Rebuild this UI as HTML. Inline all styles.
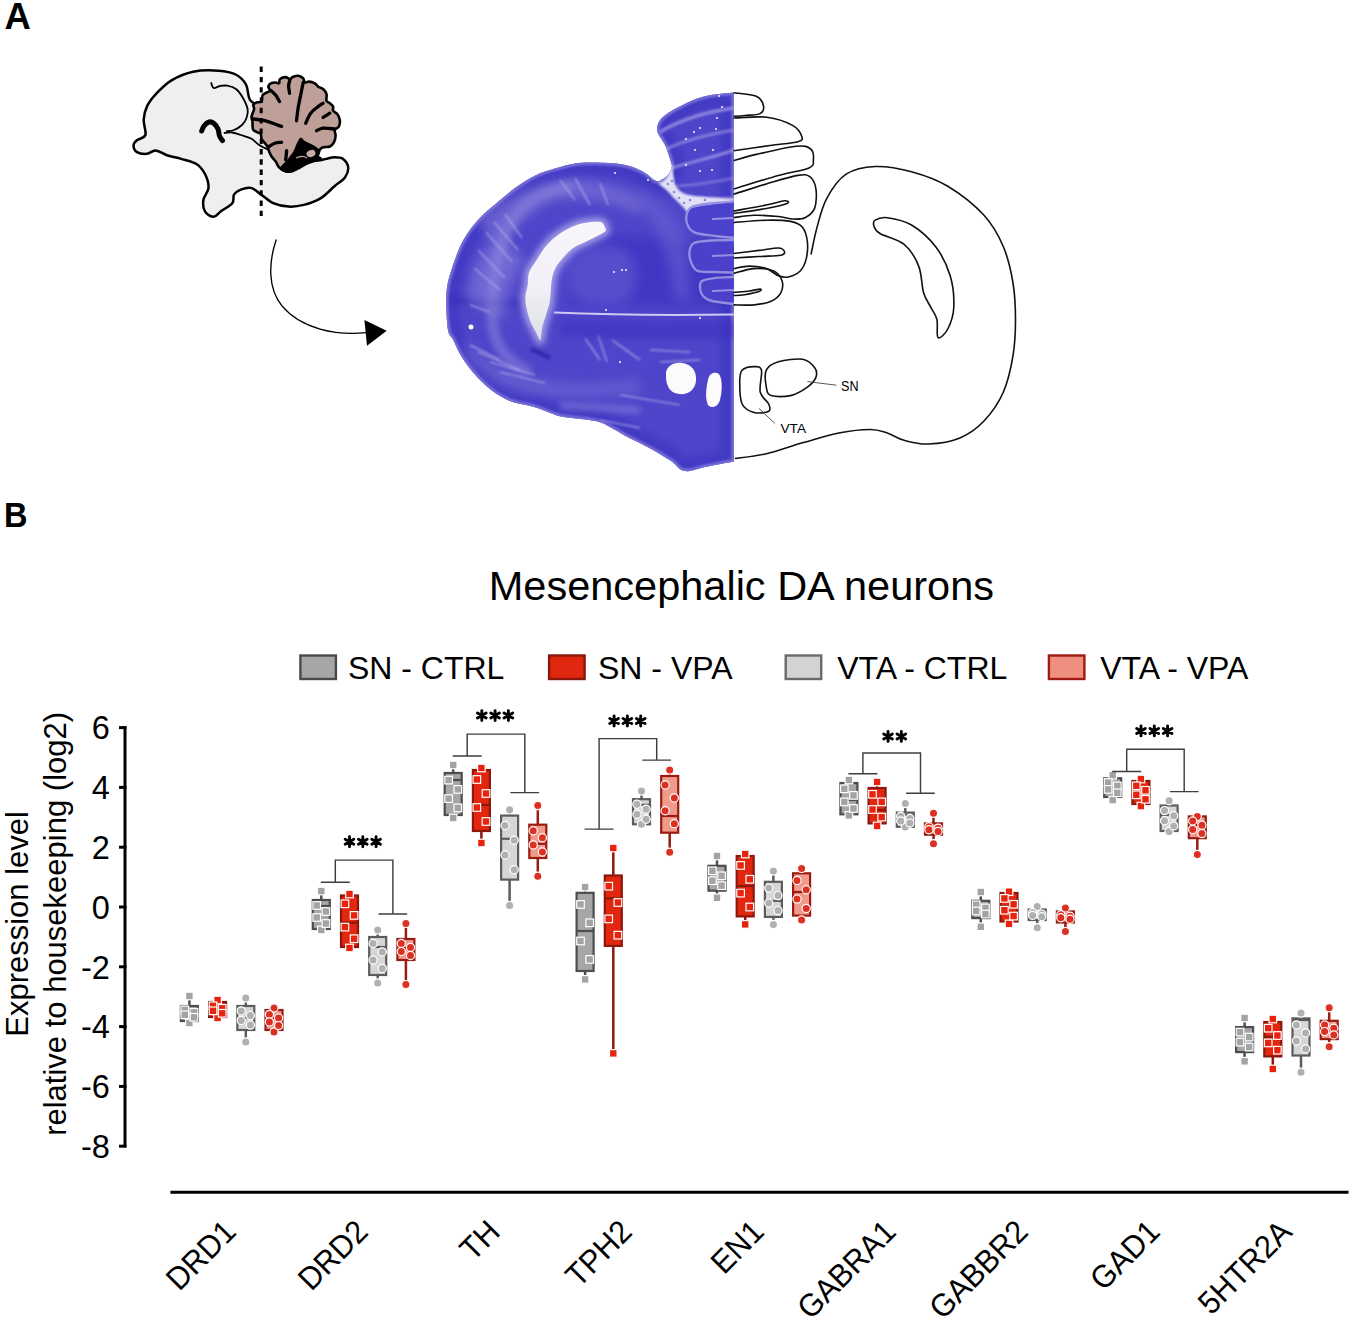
<!DOCTYPE html>
<html><head><meta charset="utf-8"><title>Figure</title>
<style>
html,body{margin:0;padding:0;background:#fff;width:1350px;height:1323px;overflow:hidden;}
svg{display:block;}
text{font-family:"Liberation Sans", sans-serif;fill:#000;}
</style></head><body>
<svg width="1350" height="1323" viewBox="0 0 1350 1323">
<rect width="1350" height="1323" fill="#fff"/>
<text x="4.4" y="28.8" font-size="36.5" font-weight="bold">A</text>
<text transform="translate(3.9 527) scale(0.93 1)" font-size="35" font-weight="bold">B</text>
<path d="M147.1,106.1 C149.2,101.8 152.2,97.9 156.3,93.6 C160.4,89.3 165.4,83.9 171.5,80.3 C177.6,76.7 185.2,73.3 193.1,71.7 C201.0,70.1 211.6,70.2 218.7,70.7 C225.8,71.2 231.1,72.2 235.7,74.5 C240.2,76.8 243.6,80.2 246.0,84.5 C248.4,88.8 247.5,96.2 250.2,100.1 C252.9,104.0 256.2,103.8 262.0,108.0 C267.8,112.2 278.7,118.0 285.0,125.0 C291.3,132.0 296.5,144.2 300.0,150.0 C303.5,155.8 303.1,158.2 306.0,160.0 C308.9,161.8 314.2,160.8 317.5,160.6 C320.8,160.4 323.2,159.5 326.0,158.9 C328.8,158.3 331.6,157.2 334.5,157.2 C337.4,157.2 340.8,157.2 343.1,158.9 C345.4,160.6 347.9,164.3 348.2,167.4 C348.5,170.5 347.1,174.6 344.8,177.7 C342.5,180.8 338.5,182.8 334.5,186.2 C330.5,189.6 326.0,195.0 320.9,198.1 C315.8,201.2 309.3,203.5 303.9,204.9 C298.5,206.3 293.6,206.9 288.5,206.6 C283.4,206.3 277.7,205.2 273.2,203.2 C268.7,201.2 265.0,197.2 261.3,194.7 C257.6,192.1 254.5,188.8 251.1,187.9 C247.7,187.1 243.7,188.5 240.8,189.6 C238.0,190.7 235.4,192.4 234.0,194.7 C232.6,197.0 234.6,200.4 232.3,203.2 C230.0,206.0 223.5,209.4 220.4,211.7 C217.3,214.0 216.2,216.8 213.6,216.8 C211.0,216.8 206.8,214.5 205.1,211.7 C203.4,208.9 202.8,203.8 203.4,199.8 C204.0,195.8 208.2,192.2 208.5,187.9 C208.8,183.7 207.1,178.3 205.1,174.3 C203.1,170.3 200.5,166.6 196.5,164.0 C192.5,161.4 186.0,160.3 181.2,158.9 C176.4,157.5 171.8,156.9 167.6,155.5 C163.3,154.1 159.1,150.7 155.7,150.4 C152.3,150.1 150.2,153.5 147.1,153.8 C144.0,154.1 139.2,153.5 136.9,152.1 C134.6,150.7 133.5,147.3 133.5,145.3 C133.5,143.3 134.9,141.9 136.9,140.2 C138.9,138.5 144.3,138.4 145.4,135.0 C146.5,131.6 143.4,124.5 143.7,119.7 C144.0,114.9 145.0,110.4 147.1,106.1 Z" fill="#efefef" stroke="#000" stroke-width="2.5" stroke-linejoin="round"/>
<path d="M211.0,82.3 C211.4,83.2 212.1,87.4 213.6,88.0 C215.1,88.6 217.7,86.4 220.0,86.0 C222.3,85.6 224.5,85.2 227.2,85.7 C229.9,86.2 233.4,87.0 236.0,89.0 C238.6,91.0 241.1,94.6 243.0,98.0 C244.9,101.4 247.1,106.2 247.7,109.5 C248.3,112.8 247.4,115.4 246.5,118.0 C245.6,120.6 244.1,123.0 242.0,125.0 C239.9,127.0 236.7,128.9 234.0,130.0 C231.3,131.1 227.3,131.2 226.0,131.5" fill="none" stroke="#000" stroke-width="1.8"/>
<path d="M223.8,133.0 C225.2,132.9 229.2,132.2 232.0,132.5 C234.8,132.8 237.6,134.0 240.8,135.0 C244.0,136.0 248.0,136.8 251.1,138.5 C254.2,140.2 256.5,143.3 259.6,145.3 C262.7,147.3 268.1,149.6 269.8,150.4" fill="none" stroke="#000" stroke-width="1.8"/>
<path d="M201.7,131.0 C202.1,130.2 202.8,127.5 204.0,126.0 C205.2,124.5 207.3,122.4 209.0,122.0 C210.7,121.6 212.5,122.3 214.0,123.5 C215.5,124.7 217.1,126.9 218.0,129.0 C218.9,131.1 218.8,134.1 219.5,136.0 C220.2,137.9 222.0,139.8 222.5,140.5" fill="none" stroke="#000" stroke-width="5" stroke-linecap="round"/>
<path d="M252.5,121.5 C252.3,120.1 251.3,118.6 251.6,116.5 C251.9,114.4 253.8,111.0 254.1,109.1 C254.4,107.2 252.9,106.0 253.3,104.9 C253.7,103.8 255.2,103.0 256.6,102.4 C258.0,101.9 260.6,102.7 261.6,101.6 C262.6,100.5 261.8,97.2 262.4,95.8 C262.9,94.4 263.6,94.1 264.9,93.3 C266.1,92.5 269.3,91.9 269.9,90.8 C270.5,89.7 268.1,87.8 268.3,86.6 C268.5,85.3 269.6,84.0 270.8,83.3 C272.0,82.6 274.3,82.5 275.7,82.5 C277.1,82.5 278.4,83.9 279.1,83.3 C279.8,82.7 278.8,80.1 279.9,79.1 C281.0,78.1 284.0,77.1 285.7,77.1 C287.4,77.1 288.6,79.2 289.9,79.1 C291.1,79.0 291.8,77.2 293.2,76.7 C294.6,76.2 296.5,75.5 298.2,75.8 C299.9,76.1 302.1,77.2 303.2,78.3 C304.3,79.4 303.8,82.0 304.8,82.5 C305.8,83.0 307.3,81.5 309.0,81.6 C310.7,81.7 313.3,82.5 314.8,83.3 C316.3,84.1 316.7,85.6 318.1,86.6 C319.5,87.6 321.7,87.8 323.1,89.1 C324.5,90.3 325.9,92.1 326.5,94.1 C327.1,96.0 325.9,99.3 326.5,100.8 C327.1,102.3 328.7,102.3 329.8,103.3 C330.9,104.3 332.6,105.4 333.1,106.6 C333.7,107.8 332.4,109.5 333.1,110.7 C333.8,112.0 336.2,112.6 337.3,114.1 C338.4,115.6 339.5,117.8 339.8,119.9 C340.1,122.0 339.7,124.8 338.9,126.5 C338.1,128.2 335.4,128.4 334.8,129.9 C334.2,131.4 335.8,133.6 335.6,135.7 C335.5,137.8 334.9,140.5 333.9,142.3 C332.9,144.1 331.6,145.7 329.8,146.5 C328.0,147.3 324.8,146.8 323.1,147.3 C321.4,147.9 320.6,148.6 319.8,149.8 C319.0,151.1 318.9,153.7 318.1,154.8 C317.3,155.9 316.0,155.9 314.8,156.5 C313.6,157.1 313.5,157.3 310.7,158.1 C307.9,158.9 301.4,159.4 298.2,161.4 C295.0,163.4 293.6,168.1 291.5,169.8 C289.4,171.5 287.8,171.8 285.7,171.4 C283.6,171.0 280.8,169.0 279.1,167.3 C277.4,165.6 276.9,163.2 275.7,161.4 C274.4,159.6 272.7,158.2 271.6,156.5 C270.5,154.8 269.8,153.2 269.1,151.5 C268.4,149.8 268.1,147.9 267.4,146.5 C266.7,145.1 265.9,144.4 264.9,143.2 C263.9,141.9 262.3,140.5 261.6,139.0 C260.9,137.5 261.5,135.1 260.8,134.0 C260.1,132.9 258.8,133.0 257.5,132.3 C256.2,131.6 254.1,131.1 253.3,129.9 C252.5,128.7 252.6,126.3 252.5,124.9 C252.4,123.5 252.7,122.9 252.5,121.5 Z" fill="#bfa099" stroke="#000" stroke-width="2.6" stroke-linejoin="round"/>
<path d="M270.8,90.4 C271.7,91.2 274.6,93.7 276.0,95.5 C277.4,97.3 278.9,100.5 279.5,101.5" fill="none" stroke="#000" stroke-width="3.3" stroke-linecap="round"/>
<path d="M289.6,93.3 C289.4,92.0 288.6,88.0 288.6,85.8 C288.7,83.6 289.7,81.0 289.9,80.0" fill="none" stroke="#000" stroke-width="3.3" stroke-linecap="round"/>
<path d="M296.5,120.8 C296.8,118.6 297.5,111.7 298.2,107.4 C298.9,103.1 299.9,99.1 300.7,94.9 C301.5,90.8 302.8,84.6 303.2,82.5" fill="none" stroke="#000" stroke-width="3.3" stroke-linecap="round"/>
<path d="M305.7,123.2 C306.5,121.5 308.6,116.0 310.7,113.2 C312.8,110.4 316.0,108.2 318.1,106.6 C320.2,104.9 322.3,103.8 323.1,103.3" fill="none" stroke="#000" stroke-width="3.3" stroke-linecap="round"/>
<path d="M323.1,117.4 C324.2,116.7 328.7,113.9 329.8,113.2" fill="none" stroke="#000" stroke-width="3.3" stroke-linecap="round"/>
<path d="M316.5,130.7 C317.6,130.3 320.1,128.5 323.1,128.2 C326.2,127.9 332.9,128.9 334.8,129.0" fill="none" stroke="#000" stroke-width="3.3" stroke-linecap="round"/>
<path d="M253.3,119.0 C255.2,119.3 260.2,119.5 264.9,120.7 C269.6,122.0 278.8,125.5 281.6,126.5" fill="none" stroke="#000" stroke-width="3.3" stroke-linecap="round"/>
<path d="M269.1,146.5 C270.1,145.9 272.8,143.9 274.9,143.2 C277.0,142.5 280.5,142.5 281.6,142.3" fill="none" stroke="#000" stroke-width="3.3" stroke-linecap="round"/>
<path d="M286.6,150.6 C286.5,152.1 285.9,158.3 285.7,159.8" fill="none" stroke="#000" stroke-width="3.3" stroke-linecap="round"/>
<path d="M300.7,137.5 C302.0,137.2 302.9,139.8 305.0,141.0 C307.1,142.2 310.7,143.6 313.0,145.0 C315.3,146.4 318.2,147.8 319.0,149.5 C319.8,151.2 317.5,153.6 318.0,155.0 C318.5,156.4 322.0,157.0 322.0,158.0 C322.0,159.0 320.3,159.9 318.0,161.0 C315.7,162.1 311.3,163.0 308.0,164.5 C304.7,166.0 301.0,168.6 298.0,170.0 C295.0,171.4 292.5,172.8 290.0,173.0 C287.5,173.2 284.7,172.3 283.0,171.5 C281.3,170.7 279.5,169.8 280.0,168.0 C280.5,166.2 283.8,163.7 286.0,161.0 C288.2,158.3 291.2,155.0 293.0,152.0 C294.8,149.0 295.7,145.4 297.0,143.0 C298.3,140.6 299.4,137.8 300.7,137.5 Z" fill="#000"/>
<ellipse cx="311" cy="153.5" rx="4.6" ry="3.4" fill="#c8aca6" transform="rotate(-20 311 153.5)"/>
<path d="M296,158 C300,156 304,156 307,158" fill="none" stroke="#c8aca6" stroke-width="1.2"/>
<line x1="261.2" y1="66.6" x2="261.2" y2="216" stroke="#000" stroke-width="3" stroke-dasharray="5.4,4.9"/>
<path d="M276.3,239.5 C268.2,263.2 268,289 282,305.9 C301.1,329 336.2,335.6 366,332.6" fill="none" stroke="#000" stroke-width="1.35"/>
<polygon points="364.4,319.9 386.7,330.8 367,345.8" fill="#000"/>
<defs><clipPath id="bclip"><path d="M733.9,92.4 C729.9,92.9 716.5,93.9 709.6,95.2 C702.7,96.5 698.0,98.1 692.2,100.4 C686.4,102.7 679.7,106.3 674.8,109.1 C669.9,111.9 665.8,114.5 663.0,117.0 C660.2,119.5 658.9,121.5 658.0,124.0 C657.1,126.5 656.7,129.0 657.4,131.7 C658.1,134.4 660.5,137.4 662.0,140.0 C663.5,142.6 664.6,143.6 666.1,147.4 C667.6,151.2 670.4,159.6 671.3,163.0 C672.2,166.4 672.0,166.0 671.5,168.0 C671.0,170.0 669.6,173.1 668.0,175.0 C666.4,176.9 664.0,178.5 662.0,179.5 C660.0,180.5 659.1,182.2 655.8,180.8 C652.5,179.4 647.8,173.9 642.3,171.2 C636.8,168.5 631.0,165.9 623.0,164.5 C615.0,163.1 602.1,162.7 594.1,162.5 C586.1,162.3 581.3,162.5 574.9,163.5 C568.5,164.5 562.0,166.4 555.6,168.3 C549.2,170.2 542.7,171.9 536.3,175.0 C529.9,178.1 523.5,182.1 517.1,186.6 C510.7,191.1 504.2,196.5 497.8,202.0 C491.4,207.5 484.3,213.0 478.5,219.4 C472.7,225.8 467.6,232.2 463.1,240.6 C458.6,248.9 454.4,260.7 451.6,269.5 C448.8,278.3 447.1,283.4 446.5,293.3 C445.9,303.2 446.7,321.1 447.8,328.9 C448.9,336.7 450.9,335.2 453.3,340.0 C455.7,344.8 458.1,351.5 462.2,357.8 C466.3,364.1 472.2,371.9 477.8,377.8 C483.4,383.7 489.7,389.2 495.6,393.3 C501.5,397.4 507.0,400.0 513.3,402.2 C519.6,404.4 527.0,404.8 533.3,406.7 C539.6,408.6 546.3,411.6 551.1,413.3 C555.9,415.0 554.8,415.4 562.2,416.7 C569.6,418.0 587.1,419.1 595.6,421.1 C604.1,423.1 607.8,426.1 613.3,428.9 C618.8,431.7 622.6,434.5 628.9,437.8 C635.2,441.1 644.1,445.0 651.1,448.9 C658.1,452.8 665.6,457.4 671.1,461.1 C676.6,464.8 678.5,470.2 684.4,471.1 C690.3,472.0 698.5,468.3 706.7,466.7 C715.0,465.1 729.4,462.4 733.9,461.5 Z"/></clipPath><filter id="blur1" filterUnits="userSpaceOnUse" x="400" y="50" width="400" height="450"><feGaussianBlur stdDeviation="1.2"/></filter><filter id="blur3" filterUnits="userSpaceOnUse" x="400" y="50" width="400" height="450"><feGaussianBlur stdDeviation="3"/></filter><filter id="blur6" filterUnits="userSpaceOnUse" x="400" y="50" width="400" height="450"><feGaussianBlur stdDeviation="6"/></filter></defs>
<path d="M733.9,92.4 C729.9,92.9 716.5,93.9 709.6,95.2 C702.7,96.5 698.0,98.1 692.2,100.4 C686.4,102.7 679.7,106.3 674.8,109.1 C669.9,111.9 665.8,114.5 663.0,117.0 C660.2,119.5 658.9,121.5 658.0,124.0 C657.1,126.5 656.7,129.0 657.4,131.7 C658.1,134.4 660.5,137.4 662.0,140.0 C663.5,142.6 664.6,143.6 666.1,147.4 C667.6,151.2 670.4,159.6 671.3,163.0 C672.2,166.4 672.0,166.0 671.5,168.0 C671.0,170.0 669.6,173.1 668.0,175.0 C666.4,176.9 664.0,178.5 662.0,179.5 C660.0,180.5 659.1,182.2 655.8,180.8 C652.5,179.4 647.8,173.9 642.3,171.2 C636.8,168.5 631.0,165.9 623.0,164.5 C615.0,163.1 602.1,162.7 594.1,162.5 C586.1,162.3 581.3,162.5 574.9,163.5 C568.5,164.5 562.0,166.4 555.6,168.3 C549.2,170.2 542.7,171.9 536.3,175.0 C529.9,178.1 523.5,182.1 517.1,186.6 C510.7,191.1 504.2,196.5 497.8,202.0 C491.4,207.5 484.3,213.0 478.5,219.4 C472.7,225.8 467.6,232.2 463.1,240.6 C458.6,248.9 454.4,260.7 451.6,269.5 C448.8,278.3 447.1,283.4 446.5,293.3 C445.9,303.2 446.7,321.1 447.8,328.9 C448.9,336.7 450.9,335.2 453.3,340.0 C455.7,344.8 458.1,351.5 462.2,357.8 C466.3,364.1 472.2,371.9 477.8,377.8 C483.4,383.7 489.7,389.2 495.6,393.3 C501.5,397.4 507.0,400.0 513.3,402.2 C519.6,404.4 527.0,404.8 533.3,406.7 C539.6,408.6 546.3,411.6 551.1,413.3 C555.9,415.0 554.8,415.4 562.2,416.7 C569.6,418.0 587.1,419.1 595.6,421.1 C604.1,423.1 607.8,426.1 613.3,428.9 C618.8,431.7 622.6,434.5 628.9,437.8 C635.2,441.1 644.1,445.0 651.1,448.9 C658.1,452.8 665.6,457.4 671.1,461.1 C676.6,464.8 678.5,470.2 684.4,471.1 C690.3,472.0 698.5,468.3 706.7,466.7 C715.0,465.1 729.4,462.4 733.9,461.5 Z" fill="#4e45ca"/>
<g clip-path="url(#bclip)">
<path d="M733.9,92.4 C729.9,92.9 716.5,93.9 709.6,95.2 C702.7,96.5 698.0,98.1 692.2,100.4 C686.4,102.7 679.7,106.3 674.8,109.1 C669.9,111.9 665.8,114.5 663.0,117.0 C660.2,119.5 658.9,121.5 658.0,124.0 C657.1,126.5 656.7,129.0 657.4,131.7 C658.1,134.4 660.5,137.4 662.0,140.0 C663.5,142.6 664.6,143.6 666.1,147.4 C667.6,151.2 670.4,159.6 671.3,163.0 C672.2,166.4 672.0,166.0 671.5,168.0 C671.0,170.0 669.6,173.1 668.0,175.0 C666.4,176.9 664.0,178.5 662.0,179.5 C660.0,180.5 659.1,182.2 655.8,180.8 C652.5,179.4 647.8,173.9 642.3,171.2 C636.8,168.5 631.0,165.9 623.0,164.5 C615.0,163.1 602.1,162.7 594.1,162.5 C586.1,162.3 581.3,162.5 574.9,163.5 C568.5,164.5 562.0,166.4 555.6,168.3 C549.2,170.2 542.7,171.9 536.3,175.0 C529.9,178.1 523.5,182.1 517.1,186.6 C510.7,191.1 504.2,196.5 497.8,202.0 C491.4,207.5 484.3,213.0 478.5,219.4 C472.7,225.8 467.6,232.2 463.1,240.6 C458.6,248.9 454.4,260.7 451.6,269.5 C448.8,278.3 447.1,283.4 446.5,293.3 C445.9,303.2 446.7,321.1 447.8,328.9 C448.9,336.7 450.9,335.2 453.3,340.0 C455.7,344.8 458.1,351.5 462.2,357.8 C466.3,364.1 472.2,371.9 477.8,377.8 C483.4,383.7 489.7,389.2 495.6,393.3 C501.5,397.4 507.0,400.0 513.3,402.2 C519.6,404.4 527.0,404.8 533.3,406.7 C539.6,408.6 546.3,411.6 551.1,413.3 C555.9,415.0 554.8,415.4 562.2,416.7 C569.6,418.0 587.1,419.1 595.6,421.1 C604.1,423.1 607.8,426.1 613.3,428.9 C618.8,431.7 622.6,434.5 628.9,437.8 C635.2,441.1 644.1,445.0 651.1,448.9 C658.1,452.8 665.6,457.4 671.1,461.1 C676.6,464.8 678.5,470.2 684.4,471.1 C690.3,472.0 698.5,468.3 706.7,466.7 C715.0,465.1 729.4,462.4 733.9,461.5 Z" fill="none" stroke="#372dbe" stroke-width="26" opacity="0.45" filter="url(#blur3)"/>
<path d="M733.9,92.4 C729.9,92.9 716.5,93.9 709.6,95.2 C702.7,96.5 698.0,98.1 692.2,100.4 C686.4,102.7 679.7,106.3 674.8,109.1 C669.9,111.9 665.8,114.5 663.0,117.0 C660.2,119.5 658.9,121.5 658.0,124.0 C657.1,126.5 656.7,129.0 657.4,131.7 C658.1,134.4 660.5,137.4 662.0,140.0 C663.5,142.6 664.6,143.6 666.1,147.4 C667.6,151.2 670.4,159.6 671.3,163.0 C672.2,166.4 672.0,166.0 671.5,168.0 C671.0,170.0 669.6,173.1 668.0,175.0 C666.4,176.9 664.0,178.5 662.0,179.5 C660.0,180.5 659.1,182.2 655.8,180.8 C652.5,179.4 647.8,173.9 642.3,171.2 C636.8,168.5 631.0,165.9 623.0,164.5 C615.0,163.1 602.1,162.7 594.1,162.5 C586.1,162.3 581.3,162.5 574.9,163.5 C568.5,164.5 562.0,166.4 555.6,168.3 C549.2,170.2 542.7,171.9 536.3,175.0 C529.9,178.1 523.5,182.1 517.1,186.6 C510.7,191.1 504.2,196.5 497.8,202.0 C491.4,207.5 484.3,213.0 478.5,219.4 C472.7,225.8 467.6,232.2 463.1,240.6 C458.6,248.9 454.4,260.7 451.6,269.5 C448.8,278.3 447.1,283.4 446.5,293.3 C445.9,303.2 446.7,321.1 447.8,328.9 C448.9,336.7 450.9,335.2 453.3,340.0 C455.7,344.8 458.1,351.5 462.2,357.8 C466.3,364.1 472.2,371.9 477.8,377.8 C483.4,383.7 489.7,389.2 495.6,393.3 C501.5,397.4 507.0,400.0 513.3,402.2 C519.6,404.4 527.0,404.8 533.3,406.7 C539.6,408.6 546.3,411.6 551.1,413.3 C555.9,415.0 554.8,415.4 562.2,416.7 C569.6,418.0 587.1,419.1 595.6,421.1 C604.1,423.1 607.8,426.1 613.3,428.9 C618.8,431.7 622.6,434.5 628.9,437.8 C635.2,441.1 644.1,445.0 651.1,448.9 C658.1,452.8 665.6,457.4 671.1,461.1 C676.6,464.8 678.5,470.2 684.4,471.1 C690.3,472.0 698.5,468.3 706.7,466.7 C715.0,465.1 729.4,462.4 733.9,461.5 Z" fill="none" stroke="#8983dc" stroke-width="5" opacity="0.75" filter="url(#blur1)"/>
<path d="M575,186 C545,190 522,200 508,228 C496,255 491,285 492,318 C494,345 505,362 530,372" fill="none" stroke="#8f89de" stroke-width="11" opacity="0.55" filter="url(#blur3)"/>
<path d="M450,300 C470,301 495,302 522,304" fill="none" stroke="#2c22ad" stroke-width="7" opacity="0.45" filter="url(#blur3)"/>
<path d="M585,236 C570,250 560,270 562,300" fill="none" stroke="#5d55cf" stroke-width="6" opacity="0.5" filter="url(#blur3)"/>
<path d="M478,220 C500,200 530,185 560,180 C590,178 620,185 645,200 L640,215 C610,200 580,195 555,200 C530,210 510,230 500,250 Z" fill="#8780da" opacity="0.55" filter="url(#blur6)"/>
<path d="M468,300 C470,270 480,250 500,235 L525,260 C510,280 505,300 505,320 Z" fill="#8a84dc" opacity="0.55" filter="url(#blur6)"/>
<path d="M465,335 C480,360 500,372 540,380 C570,385 600,385 640,380 L640,392 C600,398 560,398 530,394 C500,388 480,375 465,355 Z" fill="#7e77d8" opacity="0.5" filter="url(#blur6)"/>
<path d="M486,232 L512,262" stroke="#b6b1ec" stroke-width="1.6" opacity="0.7" filter="url(#blur1)"/>
<path d="M494,222 L518,250" stroke="#b6b1ec" stroke-width="1.6" opacity="0.7" filter="url(#blur1)"/>
<path d="M505,214 L522,238" stroke="#b6b1ec" stroke-width="1.6" opacity="0.7" filter="url(#blur1)"/>
<path d="M478,250 L505,278" stroke="#b6b1ec" stroke-width="1.6" opacity="0.7" filter="url(#blur1)"/>
<path d="M474,268 L500,290" stroke="#b6b1ec" stroke-width="1.6" opacity="0.7" filter="url(#blur1)"/>
<path d="M470,345 L500,360" stroke="#b6b1ec" stroke-width="1.6" opacity="0.7" filter="url(#blur1)"/>
<path d="M478,352 L520,370" stroke="#b6b1ec" stroke-width="1.6" opacity="0.7" filter="url(#blur1)"/>
<path d="M490,362 L535,375" stroke="#b6b1ec" stroke-width="1.6" opacity="0.7" filter="url(#blur1)"/>
<path d="M500,372 L545,383" stroke="#b6b1ec" stroke-width="1.6" opacity="0.7" filter="url(#blur1)"/>
<path d="M585,338 L600,360" stroke="#b6b1ec" stroke-width="1.6" opacity="0.7" filter="url(#blur1)"/>
<path d="M598,335 L607,362" stroke="#b6b1ec" stroke-width="1.6" opacity="0.7" filter="url(#blur1)"/>
<path d="M612,340 L640,360" stroke="#b6b1ec" stroke-width="1.6" opacity="0.7" filter="url(#blur1)"/>
<path d="M650,350 L690,352" stroke="#b6b1ec" stroke-width="1.6" opacity="0.7" filter="url(#blur1)"/>
<path d="M660,362 L700,360" stroke="#b6b1ec" stroke-width="1.6" opacity="0.7" filter="url(#blur1)"/>
<path d="M620,395 L680,405" stroke="#b6b1ec" stroke-width="1.6" opacity="0.7" filter="url(#blur1)"/>
<path d="M560,180 L575,200" stroke="#b6b1ec" stroke-width="1.6" opacity="0.7" filter="url(#blur1)"/>
<path d="M575,178 L590,205" stroke="#b6b1ec" stroke-width="1.6" opacity="0.7" filter="url(#blur1)"/>
<path d="M600,183 L608,205" stroke="#b6b1ec" stroke-width="1.6" opacity="0.7" filter="url(#blur1)"/>
<path d="M600,420 L640,428" stroke="#b6b1ec" stroke-width="1.6" opacity="0.7" filter="url(#blur1)"/>
<path d="M470,305 L490,312" stroke="#b6b1ec" stroke-width="1.6" opacity="0.7" filter="url(#blur1)"/>
<path d="M531,349 C538,352 545,355 550,358" fill="none" stroke="#241a9e" stroke-width="5" opacity="0.6" filter="url(#blur1)"/>
<path d="M560,406 C590,407 615,409 640,410" fill="none" stroke="#a19be4" stroke-width="6" opacity="0.5" filter="url(#blur3)"/>
<path d="M575,240 C610,232 660,240 734,245 L734,305 C690,306 630,306 570,305 C560,290 560,260 575,240 Z" fill="#3328bd" opacity="0.45" filter="url(#blur6)"/>
<path d="M560,320 C610,322 680,322 734,322 L734,338 C680,340 610,340 560,336 Z" fill="#3a2fc0" opacity="0.5" filter="url(#blur3)"/>
<path d="M565,262 C580,245 605,240 625,250 C640,262 640,290 625,302 C605,310 580,305 568,292 Z" fill="#7069d6" opacity="0.45" filter="url(#blur6)"/>
<path d="M554,312.6 C600,314.5 660,315.5 734,314.5" fill="none" stroke="#d4d2f4" stroke-width="2" opacity="0.95"/>
<path d="M660,132 C680,120 705,112 734,108" fill="none" stroke="#a9a3e8" stroke-width="3.5" opacity="0.7" filter="url(#blur1)"/>
<path d="M664,150 C685,140 710,134 734,130" fill="none" stroke="#a9a3e8" stroke-width="3" opacity="0.6" filter="url(#blur1)"/>
<path d="M672,168 C690,162 712,158 734,150" fill="none" stroke="#b8b3ee" stroke-width="3" opacity="0.6" filter="url(#blur1)"/>
<path d="M676,186 C695,185 715,182 734,178" fill="none" stroke="#a9a3e8" stroke-width="2.5" opacity="0.5" filter="url(#blur1)"/>
<path d="M672,196 C690,199 712,200 734,198" fill="none" stroke="#8d86dc" stroke-width="3" opacity="0.7" filter="url(#blur1)"/>
<path d="M671.5,164.0 C672.2,164.5 672.8,172.3 673.5,176.0 C674.2,179.7 674.2,183.1 676.0,186.0 C677.8,188.9 680.0,191.8 684.0,193.5 C688.0,195.2 691.7,195.6 700.0,196.5 C708.3,197.4 728.3,198.2 734.0,199.2 C739.7,200.2 737.7,201.9 734.0,202.5 C730.3,203.1 718.7,202.3 712.0,203.0 C705.3,203.7 698.0,205.0 694.0,206.5 C690.0,208.0 689.8,211.9 688.0,212.0 C686.2,212.1 685.0,209.0 683.0,207.0 C681.0,205.0 678.7,202.8 676.0,200.0 C673.3,197.2 669.8,193.2 667.0,190.5 C664.2,187.8 659.5,185.2 659.0,183.5 C658.5,181.8 662.3,182.2 664.0,180.5 C665.7,178.8 667.8,175.8 669.0,173.0 C670.2,170.2 670.8,163.5 671.5,164.0 Z" fill="#e2e0f6" filter="url(#blur1)"/>
<circle cx="668" cy="184" r="1.3" fill="#8f89dc"/>
<circle cx="674" cy="192" r="1.3" fill="#8f89dc"/>
<circle cx="679" cy="198" r="1.3" fill="#8f89dc"/>
<circle cx="684" cy="203" r="1.3" fill="#8f89dc"/>
<circle cx="672" cy="181" r="1.3" fill="#8f89dc"/>
<circle cx="690" cy="200" r="1.3" fill="#8f89dc"/>
<circle cx="705" cy="200" r="1.3" fill="#8f89dc"/>
<path d="M640,185 C660,200 675,215 686,235 L690,300 L675,300 C670,260 660,230 640,205 Z" fill="#6f68d4" opacity="0.5" filter="url(#blur6)"/>
<path d="M734.0,201.3 C730.3,201.7 719.0,202.6 712.0,203.5 C705.0,204.4 696.2,205.1 692.0,207.0 C687.8,208.9 687.2,211.8 686.5,215.0 C685.8,218.2 686.6,223.1 688.0,226.0 C689.4,228.9 690.5,230.9 695.0,232.6 C699.5,234.3 708.5,235.1 715.0,236.0 C721.5,236.9 730.8,237.5 734.0,237.8" fill="#4b42cc" stroke="#9893e2" stroke-width="2.4" opacity="0.95"/>
<path d="M734.0,240.0 C730.3,240.1 718.7,240.0 712.0,240.5 C705.3,241.0 697.8,241.1 694.0,243.0 C690.2,244.9 690.0,248.5 689.5,251.7 C689.0,254.9 689.7,258.8 691.0,262.0 C692.3,265.2 693.4,269.2 697.4,270.9 C701.4,272.6 708.9,271.7 715.0,272.0 C721.1,272.3 730.8,272.5 734.0,272.6" fill="#4b42cc" stroke="#9893e2" stroke-width="2.4" opacity="0.95"/>
<path d="M734.0,277.0 C730.8,277.2 720.3,277.3 715.0,278.0 C709.7,278.7 704.5,279.3 702.0,281.0 C699.5,282.7 699.8,285.5 700.0,288.0 C700.2,290.5 701.0,293.8 703.0,296.0 C705.0,298.2 706.8,299.7 712.0,301.0 C717.2,302.3 730.3,303.5 734.0,304.0" fill="#4b42cc" stroke="#9893e2" stroke-width="2.4" opacity="0.95"/>
<path d="M712,219.0 L734,218.0" stroke="#a9a4ea" stroke-width="2" opacity="0.8"/>
<path d="M712,256.0 L734,255.0" stroke="#a9a4ea" stroke-width="2" opacity="0.8"/>
<path d="M712,291.0 L734,290.0" stroke="#a9a4ea" stroke-width="2" opacity="0.8"/>
<path d="M605.2,227.8 C604.7,226.3 603.4,223.5 602.0,222.5 C600.6,221.5 599.6,221.7 596.7,221.8 C593.8,221.9 588.6,222.2 584.6,223.0 C580.6,223.8 577.0,224.6 572.6,226.6 C568.2,228.6 562.4,231.8 558.0,235.0 C553.6,238.2 549.6,241.8 546.0,246.0 C542.4,250.2 539.1,256.1 536.3,260.5 C533.5,264.9 530.4,268.5 529.0,272.5 C527.6,276.5 528.4,280.6 527.8,284.6 C527.2,288.6 525.6,292.7 525.4,296.7 C525.2,300.7 525.8,304.8 526.6,308.8 C527.4,312.8 528.6,316.9 530.2,320.9 C531.8,324.9 534.7,329.8 536.3,333.0 C537.9,336.2 539.2,339.6 540.0,340.3 C540.8,341.0 540.6,339.2 541.0,337.0 C541.4,334.8 541.5,330.7 542.3,327.0 C543.1,323.3 544.8,318.9 546.0,314.9 C547.2,310.9 548.8,306.8 549.6,302.8 C550.4,298.8 550.4,294.7 550.8,290.7 C551.2,286.7 551.2,282.4 552.0,278.6 C552.8,274.8 553.8,271.1 555.6,267.7 C557.4,264.3 560.1,261.2 562.9,258.0 C565.7,254.8 569.0,251.0 572.6,248.4 C576.2,245.8 580.6,244.3 584.6,242.3 C588.6,240.3 593.3,238.1 596.7,236.3 C600.1,234.5 603.8,232.8 605.2,231.4 C606.6,230.0 605.7,229.3 605.2,227.8 Z" fill="#b9b5ec" stroke="#9d97e4" stroke-width="9" filter="url(#blur3)"/>
<defs><linearGradient id="vg" x1="0" y1="0" x2="0" y2="1"><stop offset="0" stop-color="#f6f6fb"/><stop offset="0.55" stop-color="#f0f0f6"/><stop offset="1" stop-color="#dedee6"/></linearGradient></defs>
<path d="M605.2,227.8 C604.7,226.3 603.4,223.5 602.0,222.5 C600.6,221.5 599.6,221.7 596.7,221.8 C593.8,221.9 588.6,222.2 584.6,223.0 C580.6,223.8 577.0,224.6 572.6,226.6 C568.2,228.6 562.4,231.8 558.0,235.0 C553.6,238.2 549.6,241.8 546.0,246.0 C542.4,250.2 539.1,256.1 536.3,260.5 C533.5,264.9 530.4,268.5 529.0,272.5 C527.6,276.5 528.4,280.6 527.8,284.6 C527.2,288.6 525.6,292.7 525.4,296.7 C525.2,300.7 525.8,304.8 526.6,308.8 C527.4,312.8 528.6,316.9 530.2,320.9 C531.8,324.9 534.7,329.8 536.3,333.0 C537.9,336.2 539.2,339.6 540.0,340.3 C540.8,341.0 540.6,339.2 541.0,337.0 C541.4,334.8 541.5,330.7 542.3,327.0 C543.1,323.3 544.8,318.9 546.0,314.9 C547.2,310.9 548.8,306.8 549.6,302.8 C550.4,298.8 550.4,294.7 550.8,290.7 C551.2,286.7 551.2,282.4 552.0,278.6 C552.8,274.8 553.8,271.1 555.6,267.7 C557.4,264.3 560.1,261.2 562.9,258.0 C565.7,254.8 569.0,251.0 572.6,248.4 C576.2,245.8 580.6,244.3 584.6,242.3 C588.6,240.3 593.3,238.1 596.7,236.3 C600.1,234.5 603.8,232.8 605.2,231.4 C606.6,230.0 605.7,229.3 605.2,227.8 Z" fill="url(#vg)"/>
<path d="M666,376 C665,366 674,362 682,363 C692,364 697,372 696,381 C695,390 688,395 679,394 C670,393 666,386 666,376 Z" fill="#fbfbfb"/>
<path d="M708,380 C709,373 715,371 719,374 C723,380 722,392 720,400 C718,407 712,409 708,405 C705,398 706,388 708,380 Z" fill="#fbfbfb"/>
<circle cx="471" cy="327" r="2.5" fill="#fff"/>
<circle cx="719" cy="96" r="1.1" fill="#fff" opacity="0.9"/>
<circle cx="722" cy="107" r="1.1" fill="#fff" opacity="0.9"/>
<circle cx="717" cy="118" r="1.1" fill="#fff" opacity="0.9"/>
<circle cx="700" cy="128" r="1.1" fill="#fff" opacity="0.9"/>
<circle cx="694" cy="132" r="1.1" fill="#fff" opacity="0.9"/>
<circle cx="716" cy="129" r="1.1" fill="#fff" opacity="0.9"/>
<circle cx="686" cy="139" r="1.1" fill="#fff" opacity="0.9"/>
<circle cx="695" cy="150" r="1.1" fill="#fff" opacity="0.9"/>
<circle cx="713" cy="150" r="1.1" fill="#fff" opacity="0.9"/>
<circle cx="686" cy="165" r="1.1" fill="#fff" opacity="0.9"/>
<circle cx="700" cy="171" r="1.1" fill="#fff" opacity="0.9"/>
<circle cx="712" cy="170" r="1.1" fill="#fff" opacity="0.9"/>
<circle cx="615" cy="173" r="1.1" fill="#fff" opacity="0.9"/>
<circle cx="648" cy="180" r="1.1" fill="#fff" opacity="0.9"/>
<circle cx="622" cy="270" r="1.1" fill="#fff" opacity="0.9"/>
<circle cx="614" cy="272" r="1.1" fill="#fff" opacity="0.9"/>
<circle cx="626" cy="270" r="1.1" fill="#fff" opacity="0.9"/>
<circle cx="700" cy="318" r="1.1" fill="#fff" opacity="0.9"/>
<circle cx="620" cy="362" r="1.1" fill="#fff" opacity="0.9"/>
<circle cx="606" cy="310" r="1.1" fill="#fff" opacity="0.9"/>
</g>
<path d="M733.6,92.7 C737.4,93.3 751.3,94.1 756.3,96.3 C761.3,98.5 762.9,103.1 763.5,106.0 C764.1,108.9 763.1,112.0 760.0,113.6 C756.9,115.2 749.4,115.0 745.0,115.5 C740.6,116.0 735.5,116.2 733.6,116.3" fill="none" stroke="#111" stroke-width="1.6" stroke-linejoin="round"/>
<path d="M733.6,118.0 C739.2,117.9 757.2,116.0 767.0,117.2 C776.8,118.4 786.8,122.2 792.6,125.4 C798.4,128.6 800.8,133.6 801.7,136.3 C802.6,139.0 803.3,140.2 798.0,141.7 C792.7,143.2 780.7,144.0 770.0,145.5 C759.3,147.0 739.7,149.9 733.6,150.8" fill="none" stroke="#111" stroke-width="1.6" stroke-linejoin="round"/>
<path d="M733.6,160.7 C737.4,159.6 745.9,156.8 756.3,154.4 C766.7,152.0 787.1,147.1 796.2,146.2 C805.3,145.3 807.8,146.7 810.7,149.0 C813.6,151.3 813.7,156.6 813.4,159.8 C813.1,163.0 814.8,165.4 809.0,168.0 C803.2,170.6 791.0,172.0 778.4,175.5 C765.8,179.0 741.1,186.7 733.6,188.9" fill="none" stroke="#111" stroke-width="1.6" stroke-linejoin="round"/>
<path d="M733.6,194.3 C739.0,192.6 755.6,187.1 766.3,183.9 C777.0,180.8 790.5,176.6 797.7,175.4 C805.0,174.2 806.8,174.4 809.8,176.6 C812.8,178.8 815.1,183.4 815.9,188.7 C816.7,193.9 816.5,203.3 814.7,208.1 C812.9,212.9 808.6,215.9 805.0,217.7 C801.4,219.5 797.3,219.2 792.9,219.0 C788.5,218.8 784.8,217.1 778.4,216.5 C772.0,215.9 761.7,215.1 754.2,215.3 C746.7,215.5 737.0,217.3 733.6,217.7" fill="none" stroke="#111" stroke-width="1.6" stroke-linejoin="round"/>
<path d="M733.6,222.6 C739.0,222.2 756.8,220.4 766.3,220.2 C775.8,220.0 784.5,220.2 790.5,221.4 C796.5,222.6 799.8,224.0 802.6,227.4 C805.4,230.8 806.8,236.7 807.4,241.9 C808.0,247.2 807.4,254.0 806.2,258.9 C805.0,263.8 803.2,268.0 800.2,271.0 C797.2,274.0 791.7,276.2 788.1,277.0 C784.5,277.8 782.0,277.2 778.4,275.8 C774.8,274.4 771.1,270.2 766.3,268.6 C761.5,267.0 754.8,266.1 749.4,266.1 C744.0,266.1 736.2,268.2 733.6,268.6" fill="none" stroke="#111" stroke-width="1.6" stroke-linejoin="round"/>
<path d="M733.6,273.4 C737.0,272.6 747.5,269.0 754.2,268.6 C760.9,268.2 769.0,269.0 773.6,271.0 C778.2,273.0 780.8,277.1 782.0,280.7 C783.2,284.3 782.6,289.4 780.8,292.8 C779.0,296.2 775.5,299.2 771.1,301.2 C766.7,303.2 760.5,304.3 754.2,304.9 C748.0,305.5 737.0,304.9 733.6,304.9" fill="none" stroke="#111" stroke-width="1.6" stroke-linejoin="round"/>
<path d="M733.6,211.0 C739.0,210.0 757.8,206.7 766.3,205.0 C774.8,203.3 780.9,201.1 784.4,200.8 C787.9,200.6 790.0,202.2 787.0,203.5 C784.0,204.8 775.2,206.8 766.3,208.5 C757.4,210.2 739.0,212.7 733.6,213.5" fill="none" stroke="#111" stroke-width="1.6" stroke-linejoin="round"/>
<path d="M733.6,253.5 C737.8,253.0 751.5,251.3 759.0,250.4 C766.5,249.5 774.2,247.8 778.4,248.0 C782.6,248.2 784.0,250.4 784.4,251.6 C784.8,252.8 785.0,254.4 780.8,255.2 C776.6,256.0 766.9,256.0 759.0,256.5 C751.1,257.0 737.8,257.8 733.6,258.0" fill="none" stroke="#111" stroke-width="1.6" stroke-linejoin="round"/>
<path d="M733.6,292.5 C736.2,292.2 745.0,291.6 749.4,291.0 C753.8,290.4 758.6,289.0 760.2,289.1 C761.8,289.2 761.6,290.6 759.0,291.5 C756.4,292.4 748.7,294.0 744.5,294.7 C740.3,295.4 735.4,295.4 733.6,295.5" fill="none" stroke="#111" stroke-width="1.6" stroke-linejoin="round"/>
<path d="M811.0,254.5 C812.0,250.0 814.4,236.8 817.0,227.4 C819.6,218.1 821.9,207.3 826.8,198.4 C831.6,189.5 838.0,179.5 846.1,174.2 C854.2,168.9 864.3,166.9 875.2,166.5 C886.1,166.1 899.4,168.5 911.5,171.8 C923.6,175.1 935.7,179.1 947.8,186.3 C959.9,193.6 974.7,205.2 984.0,215.3 C993.3,225.4 998.6,235.5 1003.4,246.8 C1008.2,258.1 1011.0,270.9 1013.0,283.0 C1015.0,295.1 1015.5,307.3 1015.5,319.4 C1015.5,331.5 1015.0,343.6 1013.0,355.7 C1011.0,367.8 1008.2,381.1 1003.4,392.0 C998.6,402.9 991.2,413.4 984.0,421.0 C976.8,428.6 969.2,434.1 959.9,437.9 C950.6,441.7 937.7,443.6 928.4,444.0 C919.1,444.4 911.1,442.1 904.2,440.3 C897.4,438.5 892.9,434.8 887.3,433.0 C881.6,431.2 878.4,429.5 870.3,429.5 C862.2,429.5 850.2,430.8 838.9,433.0 C827.6,435.2 814.7,439.4 802.6,442.8 C790.5,446.2 777.6,451.1 766.3,453.7 C755.0,456.3 740.0,457.7 734.8,458.5" fill="none" stroke="#111" stroke-width="1.6" stroke-linejoin="round"/>
<path d="M875.2,220.2 C877.4,218.8 881.2,216.9 887.3,217.7 C893.3,218.5 903.4,220.2 911.5,225.0 C919.6,229.8 929.2,238.3 935.7,246.8 C942.2,255.3 947.2,265.7 950.2,275.8 C953.2,285.9 954.2,298.4 953.8,307.3 C953.4,316.2 950.4,324.0 947.8,329.0 C945.2,334.0 939.8,339.1 938.0,337.5 C936.2,335.9 938.1,324.4 936.9,319.4 C935.7,314.4 933.0,311.7 930.8,307.3 C928.6,302.9 925.6,299.7 923.6,292.8 C921.6,285.9 921.9,274.2 918.7,266.1 C915.5,258.0 910.7,249.8 904.2,244.4 C897.8,239.0 885.0,236.5 880.0,233.5 C875.0,230.5 874.8,228.4 874.0,226.2 C873.2,224.0 873.0,221.6 875.2,220.2 Z" fill="none" stroke="#111" stroke-width="1.6" stroke-linejoin="round"/>
<path d="M766.3,370.2 C768.3,366.0 772.3,363.5 778.4,361.7 C784.5,359.9 796.5,358.3 802.6,359.3 C808.7,360.3 812.5,364.8 814.7,367.8 C816.9,370.8 817.1,374.2 815.9,377.4 C814.7,380.6 811.6,384.1 807.4,387.1 C803.2,390.1 796.5,394.2 790.5,395.6 C784.5,397.0 775.1,397.0 771.1,395.6 C767.1,394.2 767.1,391.3 766.3,387.1 C765.5,382.9 764.3,374.4 766.3,370.2 Z" fill="none" stroke="#111" stroke-width="1.6" stroke-linejoin="round"/>
<path d="M742.1,370.2 C744.5,367.6 751.0,366.6 754.2,366.6 C757.4,366.6 760.5,366.0 761.5,370.2 C762.5,374.4 759.0,386.4 760.2,392.0 C761.4,397.6 767.3,400.8 768.7,404.0 C770.1,407.2 771.1,409.9 768.7,411.3 C766.3,412.7 758.6,413.7 754.2,412.5 C749.8,411.3 744.5,409.0 742.1,404.0 C739.7,399.0 739.7,387.9 739.7,382.3 C739.7,376.7 739.7,372.8 742.1,370.2 Z" fill="none" stroke="#111" stroke-width="1.6" stroke-linejoin="round"/>
<line x1="807.4" y1="381.6" x2="836.5" y2="385.2" stroke="#444" stroke-width="0.9"/>
<line x1="759" y1="408.4" x2="774.8" y2="423.4" stroke="#444" stroke-width="0.9"/>
<text x="841" y="390.7" font-size="14.5" textLength="17.5" lengthAdjust="spacingAndGlyphs">SN</text>
<text x="780.5" y="433.1" font-size="13.5" textLength="25.5" lengthAdjust="spacingAndGlyphs">VTA</text>
<text x="741.4" y="599.8" font-size="41.5" text-anchor="middle">Mesencephalic DA neurons</text>
<rect x="300.4" y="655.5" width="35.5" height="23.5" fill="#a6a6a6" stroke="#4a4a4a" stroke-width="2.4"/>
<text x="347.9" y="678.9" font-size="32">SN - CTRL</text>
<rect x="549.1" y="655.5" width="35.5" height="23.5" fill="#e0270f" stroke="#8a170c" stroke-width="2.4"/>
<text x="598.0" y="678.9" font-size="32">SN - VPA</text>
<rect x="785.7" y="655.5" width="35.5" height="23.5" fill="#d3d3d3" stroke="#6a6a6a" stroke-width="2.4"/>
<text x="837.2" y="678.9" font-size="32">VTA - CTRL</text>
<rect x="1048.9" y="655.5" width="35.5" height="23.5" fill="#ef8f80" stroke="#a01b12" stroke-width="2.4"/>
<text x="1100.2" y="678.9" font-size="32">VTA - VPA</text>
<line x1="125" y1="726.3" x2="125" y2="1147.2" stroke="#000" stroke-width="3"/>
<line x1="119" y1="727.6" x2="126.5" y2="727.6" stroke="#000" stroke-width="3"/>
<text x="109.8" y="739.4" font-size="32.5" text-anchor="end">6</text>
<line x1="119" y1="787.4" x2="126.5" y2="787.4" stroke="#000" stroke-width="3"/>
<text x="109.8" y="799.2" font-size="32.5" text-anchor="end">4</text>
<line x1="119" y1="847.2" x2="126.5" y2="847.2" stroke="#000" stroke-width="3"/>
<text x="109.8" y="859.0" font-size="32.5" text-anchor="end">2</text>
<line x1="119" y1="907.0" x2="126.5" y2="907.0" stroke="#000" stroke-width="3"/>
<text x="109.8" y="918.8" font-size="32.5" text-anchor="end">0</text>
<line x1="119" y1="966.8" x2="126.5" y2="966.8" stroke="#000" stroke-width="3"/>
<text x="109.8" y="978.6" font-size="32.5" text-anchor="end">-2</text>
<line x1="119" y1="1026.6" x2="126.5" y2="1026.6" stroke="#000" stroke-width="3"/>
<text x="109.8" y="1038.4" font-size="32.5" text-anchor="end">-4</text>
<line x1="119" y1="1086.4" x2="126.5" y2="1086.4" stroke="#000" stroke-width="3"/>
<text x="109.8" y="1098.2" font-size="32.5" text-anchor="end">-6</text>
<line x1="119" y1="1146.2" x2="126.5" y2="1146.2" stroke="#000" stroke-width="3"/>
<text x="109.8" y="1158.0" font-size="32.5" text-anchor="end">-8</text>
<text transform="translate(28.4 923.9) rotate(-90)" font-size="31" text-anchor="middle">Expression level</text>
<text transform="translate(65.9 923.9) rotate(-90)" font-size="31" text-anchor="middle">relative to housekeeping (log2)</text>
<line x1="170.4" y1="1192.2" x2="1348.5" y2="1192.2" stroke="#000" stroke-width="3"/>
<text transform="translate(237.7 1233.6) rotate(-45) scale(1 1.05)" font-size="30.4" text-anchor="end">DRD1</text>
<text transform="translate(369.7 1233.6) rotate(-45) scale(1 1.05)" font-size="30.4" text-anchor="end">DRD2</text>
<text transform="translate(501.7 1233.6) rotate(-45) scale(1 1.05)" font-size="30.4" text-anchor="end">TH</text>
<text transform="translate(633.7 1233.6) rotate(-45) scale(1 1.05)" font-size="30.4" text-anchor="end">TPH2</text>
<text transform="translate(765.7 1233.6) rotate(-45) scale(1 1.05)" font-size="30.4" text-anchor="end">EN1</text>
<text transform="translate(897.7 1233.6) rotate(-45) scale(1 1.05)" font-size="30.4" text-anchor="end">GABRA1</text>
<text transform="translate(1029.7 1233.6) rotate(-45) scale(1 1.05)" font-size="30.4" text-anchor="end">GABBR2</text>
<text transform="translate(1161.7 1233.6) rotate(-45) scale(1 1.05)" font-size="30.4" text-anchor="end">GAD1</text>
<text transform="translate(1293.7 1233.6) rotate(-45) scale(1 1.05)" font-size="30.4" text-anchor="end">5HTR2A</text>
<line x1="189.4" y1="996.0" x2="189.4" y2="1006.0" stroke="#4d4d4d" stroke-width="2.5"/>
<line x1="189.4" y1="1021.0" x2="189.4" y2="1023.0" stroke="#4d4d4d" stroke-width="2.5"/>
<rect x="180.9" y="1006.0" width="17.0" height="15.0" fill="#a6a6a6" stroke="#4d4d4d" stroke-width="2.2"/>
<line x1="180.9" y1="1010.0" x2="197.9" y2="1010.0" stroke="#4d4d4d" stroke-width="2.2"/>
<rect x="185.6" y="992.2" width="7.6" height="7.6" fill="#a3a3a3" stroke="#fff" stroke-width="1.2"/>
<rect x="185.6" y="1019.2" width="7.6" height="7.6" fill="#a3a3a3" stroke="#fff" stroke-width="1.2"/>
<rect x="181.0" y="1006.0" width="7.6" height="7.6" fill="#a3a3a3" stroke="#fff" stroke-width="1.2"/>
<rect x="190.2" y="1008.5" width="7.6" height="7.6" fill="#a3a3a3" stroke="#fff" stroke-width="1.2"/>
<rect x="181.0" y="1011.0" width="7.6" height="7.6" fill="#a3a3a3" stroke="#fff" stroke-width="1.2"/>
<rect x="190.2" y="1013.5" width="7.6" height="7.6" fill="#a3a3a3" stroke="#fff" stroke-width="1.2"/>
<line x1="217.6" y1="1000.0" x2="217.6" y2="1002.0" stroke="#8c180c" stroke-width="2.5"/>
<line x1="217.6" y1="1017.0" x2="217.6" y2="1018.0" stroke="#8c180c" stroke-width="2.5"/>
<rect x="209.1" y="1002.0" width="17.0" height="15.0" fill="#e2260f" stroke="#8c180c" stroke-width="2.2"/>
<line x1="209.1" y1="1010.0" x2="226.1" y2="1010.0" stroke="#8c180c" stroke-width="2.2"/>
<rect x="213.8" y="996.2" width="7.6" height="7.6" fill="#e8220c" stroke="#fff" stroke-width="1.2"/>
<rect x="213.8" y="1014.2" width="7.6" height="7.6" fill="#e8220c" stroke="#fff" stroke-width="1.2"/>
<rect x="209.2" y="1002.0" width="7.6" height="7.6" fill="#e8220c" stroke="#fff" stroke-width="1.2"/>
<rect x="218.4" y="1004.5" width="7.6" height="7.6" fill="#e8220c" stroke="#fff" stroke-width="1.2"/>
<rect x="209.2" y="1007.0" width="7.6" height="7.6" fill="#e8220c" stroke="#fff" stroke-width="1.2"/>
<rect x="218.4" y="1009.5" width="7.6" height="7.6" fill="#e8220c" stroke="#fff" stroke-width="1.2"/>
<line x1="245.8" y1="998.0" x2="245.8" y2="1006.0" stroke="#5c5c5c" stroke-width="2.5"/>
<line x1="245.8" y1="1030.0" x2="245.8" y2="1042.0" stroke="#5c5c5c" stroke-width="2.5"/>
<rect x="237.3" y="1006.0" width="17.0" height="24.0" fill="#d6d6d6" stroke="#5c5c5c" stroke-width="2.2"/>
<line x1="237.3" y1="1018.0" x2="254.3" y2="1018.0" stroke="#5c5c5c" stroke-width="2.2"/>
<circle cx="245.8" cy="998.0" r="4.1" fill="#b0b0b0" stroke="#fff" stroke-width="1.2"/>
<circle cx="245.8" cy="1042.0" r="4.1" fill="#b0b0b0" stroke="#fff" stroke-width="1.2"/>
<circle cx="241.2" cy="1010.9" r="4.1" fill="#b0b0b0" stroke="#fff" stroke-width="1.2"/>
<circle cx="250.4" cy="1015.6" r="4.1" fill="#b0b0b0" stroke="#fff" stroke-width="1.2"/>
<circle cx="241.2" cy="1020.4" r="4.1" fill="#b0b0b0" stroke="#fff" stroke-width="1.2"/>
<circle cx="250.4" cy="1025.1" r="4.1" fill="#b0b0b0" stroke="#fff" stroke-width="1.2"/>
<line x1="274.0" y1="1008.0" x2="274.0" y2="1010.0" stroke="#9a1b11" stroke-width="2.5"/>
<line x1="274.0" y1="1030.0" x2="274.0" y2="1032.0" stroke="#9a1b11" stroke-width="2.5"/>
<rect x="265.5" y="1010.0" width="17.0" height="20.0" fill="#f09a8b" stroke="#9a1b11" stroke-width="2.2"/>
<line x1="265.5" y1="1018.0" x2="282.5" y2="1018.0" stroke="#9a1b11" stroke-width="2.2"/>
<circle cx="274.0" cy="1008.0" r="4.1" fill="#dc3022" stroke="#fff" stroke-width="1.2"/>
<circle cx="274.0" cy="1032.0" r="4.1" fill="#dc3022" stroke="#fff" stroke-width="1.2"/>
<circle cx="269.4" cy="1014.4" r="4.1" fill="#dc3022" stroke="#fff" stroke-width="1.2"/>
<circle cx="278.6" cy="1018.1" r="4.1" fill="#dc3022" stroke="#fff" stroke-width="1.2"/>
<circle cx="269.4" cy="1021.9" r="4.1" fill="#dc3022" stroke="#fff" stroke-width="1.2"/>
<circle cx="278.6" cy="1025.6" r="4.1" fill="#dc3022" stroke="#fff" stroke-width="1.2"/>
<line x1="321.3" y1="891.0" x2="321.3" y2="900.0" stroke="#4d4d4d" stroke-width="2.5"/>
<line x1="321.3" y1="929.0" x2="321.3" y2="930.0" stroke="#4d4d4d" stroke-width="2.5"/>
<rect x="312.8" y="900.0" width="17.0" height="29.0" fill="#a6a6a6" stroke="#4d4d4d" stroke-width="2.2"/>
<line x1="312.8" y1="906.0" x2="329.8" y2="906.0" stroke="#4d4d4d" stroke-width="2.2"/>
<rect x="317.5" y="887.2" width="7.6" height="7.6" fill="#a3a3a3" stroke="#fff" stroke-width="1.2"/>
<rect x="317.5" y="926.2" width="7.6" height="7.6" fill="#a3a3a3" stroke="#fff" stroke-width="1.2"/>
<rect x="312.9" y="901.7" width="7.6" height="7.6" fill="#a3a3a3" stroke="#fff" stroke-width="1.2"/>
<rect x="322.1" y="907.7" width="7.6" height="7.6" fill="#a3a3a3" stroke="#fff" stroke-width="1.2"/>
<rect x="312.9" y="913.7" width="7.6" height="7.6" fill="#a3a3a3" stroke="#fff" stroke-width="1.2"/>
<rect x="322.1" y="919.7" width="7.6" height="7.6" fill="#a3a3a3" stroke="#fff" stroke-width="1.2"/>
<line x1="349.5" y1="894.0" x2="349.5" y2="895.5" stroke="#8c180c" stroke-width="2.5"/>
<line x1="349.5" y1="947.0" x2="349.5" y2="948.0" stroke="#8c180c" stroke-width="2.5"/>
<rect x="341.0" y="895.5" width="17.0" height="51.5" fill="#e2260f" stroke="#8c180c" stroke-width="2.2"/>
<line x1="341.0" y1="922.7" x2="358.0" y2="922.7" stroke="#8c180c" stroke-width="2.2"/>
<rect x="345.7" y="890.2" width="7.6" height="7.6" fill="#e8220c" stroke="#fff" stroke-width="1.2"/>
<rect x="345.7" y="944.2" width="7.6" height="7.6" fill="#e8220c" stroke="#fff" stroke-width="1.2"/>
<rect x="341.1" y="900.0" width="7.6" height="7.6" fill="#e8220c" stroke="#fff" stroke-width="1.2"/>
<rect x="350.3" y="911.6" width="7.6" height="7.6" fill="#e8220c" stroke="#fff" stroke-width="1.2"/>
<rect x="341.1" y="923.3" width="7.6" height="7.6" fill="#e8220c" stroke="#fff" stroke-width="1.2"/>
<rect x="350.3" y="934.9" width="7.6" height="7.6" fill="#e8220c" stroke="#fff" stroke-width="1.2"/>
<line x1="377.7" y1="930.0" x2="377.7" y2="937.0" stroke="#5c5c5c" stroke-width="2.5"/>
<line x1="377.7" y1="975.0" x2="377.7" y2="983.0" stroke="#5c5c5c" stroke-width="2.5"/>
<rect x="369.2" y="937.0" width="17.0" height="38.0" fill="#d6d6d6" stroke="#5c5c5c" stroke-width="2.2"/>
<line x1="369.2" y1="947.0" x2="386.2" y2="947.0" stroke="#5c5c5c" stroke-width="2.2"/>
<circle cx="377.7" cy="930.0" r="4.1" fill="#b0b0b0" stroke="#fff" stroke-width="1.2"/>
<circle cx="377.7" cy="983.0" r="4.1" fill="#b0b0b0" stroke="#fff" stroke-width="1.2"/>
<circle cx="373.1" cy="943.6" r="4.1" fill="#b0b0b0" stroke="#fff" stroke-width="1.2"/>
<circle cx="382.3" cy="951.9" r="4.1" fill="#b0b0b0" stroke="#fff" stroke-width="1.2"/>
<circle cx="373.1" cy="960.1" r="4.1" fill="#b0b0b0" stroke="#fff" stroke-width="1.2"/>
<circle cx="382.3" cy="968.4" r="4.1" fill="#b0b0b0" stroke="#fff" stroke-width="1.2"/>
<line x1="405.9" y1="923.4" x2="405.9" y2="939.0" stroke="#9a1b11" stroke-width="2.5"/>
<line x1="405.9" y1="960.0" x2="405.9" y2="984.6" stroke="#9a1b11" stroke-width="2.5"/>
<rect x="397.4" y="939.0" width="17.0" height="21.0" fill="#f09a8b" stroke="#9a1b11" stroke-width="2.2"/>
<line x1="397.4" y1="948.0" x2="414.4" y2="948.0" stroke="#9a1b11" stroke-width="2.2"/>
<circle cx="405.9" cy="923.4" r="4.1" fill="#dc3022" stroke="#fff" stroke-width="1.2"/>
<circle cx="405.9" cy="984.6" r="4.1" fill="#dc3022" stroke="#fff" stroke-width="1.2"/>
<circle cx="401.3" cy="943.5" r="4.1" fill="#dc3022" stroke="#fff" stroke-width="1.2"/>
<circle cx="410.5" cy="947.5" r="4.1" fill="#dc3022" stroke="#fff" stroke-width="1.2"/>
<circle cx="401.3" cy="951.5" r="4.1" fill="#dc3022" stroke="#fff" stroke-width="1.2"/>
<circle cx="410.5" cy="955.5" r="4.1" fill="#dc3022" stroke="#fff" stroke-width="1.2"/>
<line x1="453.2" y1="765.0" x2="453.2" y2="773.0" stroke="#4d4d4d" stroke-width="2.5"/>
<line x1="453.2" y1="815.0" x2="453.2" y2="818.0" stroke="#4d4d4d" stroke-width="2.5"/>
<rect x="444.7" y="773.0" width="17.0" height="42.0" fill="#a6a6a6" stroke="#4d4d4d" stroke-width="2.2"/>
<line x1="444.7" y1="780.0" x2="461.7" y2="780.0" stroke="#4d4d4d" stroke-width="2.2"/>
<rect x="449.4" y="761.2" width="7.6" height="7.6" fill="#a3a3a3" stroke="#fff" stroke-width="1.2"/>
<rect x="449.4" y="814.2" width="7.6" height="7.6" fill="#a3a3a3" stroke="#fff" stroke-width="1.2"/>
<rect x="444.8" y="776.3" width="7.6" height="7.6" fill="#a3a3a3" stroke="#fff" stroke-width="1.2"/>
<rect x="454.0" y="785.6" width="7.6" height="7.6" fill="#a3a3a3" stroke="#fff" stroke-width="1.2"/>
<rect x="444.8" y="794.8" width="7.6" height="7.6" fill="#a3a3a3" stroke="#fff" stroke-width="1.2"/>
<rect x="454.0" y="804.1" width="7.6" height="7.6" fill="#a3a3a3" stroke="#fff" stroke-width="1.2"/>
<line x1="481.4" y1="768.0" x2="481.4" y2="770.0" stroke="#8c180c" stroke-width="2.5"/>
<line x1="481.4" y1="831.0" x2="481.4" y2="843.0" stroke="#8c180c" stroke-width="2.5"/>
<rect x="472.9" y="770.0" width="17.0" height="61.0" fill="#e2260f" stroke="#8c180c" stroke-width="2.2"/>
<line x1="472.9" y1="805.0" x2="489.9" y2="805.0" stroke="#8c180c" stroke-width="2.2"/>
<rect x="477.6" y="764.2" width="7.6" height="7.6" fill="#e8220c" stroke="#fff" stroke-width="1.2"/>
<rect x="477.6" y="839.2" width="7.6" height="7.6" fill="#e8220c" stroke="#fff" stroke-width="1.2"/>
<rect x="473.0" y="775.7" width="7.6" height="7.6" fill="#e8220c" stroke="#fff" stroke-width="1.2"/>
<rect x="482.2" y="789.7" width="7.6" height="7.6" fill="#e8220c" stroke="#fff" stroke-width="1.2"/>
<rect x="473.0" y="803.7" width="7.6" height="7.6" fill="#e8220c" stroke="#fff" stroke-width="1.2"/>
<rect x="482.2" y="817.7" width="7.6" height="7.6" fill="#e8220c" stroke="#fff" stroke-width="1.2"/>
<line x1="509.6" y1="809.7" x2="509.6" y2="815.6" stroke="#5c5c5c" stroke-width="2.5"/>
<line x1="509.6" y1="879.6" x2="509.6" y2="905.4" stroke="#5c5c5c" stroke-width="2.5"/>
<rect x="501.1" y="815.6" width="17.0" height="64.0" fill="#d6d6d6" stroke="#5c5c5c" stroke-width="2.2"/>
<line x1="501.1" y1="838.8" x2="518.1" y2="838.8" stroke="#5c5c5c" stroke-width="2.2"/>
<circle cx="509.6" cy="809.7" r="4.1" fill="#b0b0b0" stroke="#fff" stroke-width="1.2"/>
<circle cx="509.6" cy="905.4" r="4.1" fill="#b0b0b0" stroke="#fff" stroke-width="1.2"/>
<circle cx="505.0" cy="825.5" r="4.1" fill="#b0b0b0" stroke="#fff" stroke-width="1.2"/>
<circle cx="514.2" cy="840.2" r="4.1" fill="#b0b0b0" stroke="#fff" stroke-width="1.2"/>
<circle cx="505.0" cy="855.0" r="4.1" fill="#b0b0b0" stroke="#fff" stroke-width="1.2"/>
<circle cx="514.2" cy="869.7" r="4.1" fill="#b0b0b0" stroke="#fff" stroke-width="1.2"/>
<line x1="537.8" y1="805.6" x2="537.8" y2="824.7" stroke="#9a1b11" stroke-width="2.5"/>
<line x1="537.8" y1="858.0" x2="537.8" y2="876.3" stroke="#9a1b11" stroke-width="2.5"/>
<rect x="529.3" y="824.7" width="17.0" height="33.3" fill="#f09a8b" stroke="#9a1b11" stroke-width="2.2"/>
<line x1="529.3" y1="843.8" x2="546.3" y2="843.8" stroke="#9a1b11" stroke-width="2.2"/>
<circle cx="537.8" cy="805.6" r="4.1" fill="#dc3022" stroke="#fff" stroke-width="1.2"/>
<circle cx="537.8" cy="876.3" r="4.1" fill="#dc3022" stroke="#fff" stroke-width="1.2"/>
<circle cx="533.2" cy="830.7" r="4.1" fill="#dc3022" stroke="#fff" stroke-width="1.2"/>
<circle cx="542.4" cy="837.8" r="4.1" fill="#dc3022" stroke="#fff" stroke-width="1.2"/>
<circle cx="533.2" cy="844.9" r="4.1" fill="#dc3022" stroke="#fff" stroke-width="1.2"/>
<circle cx="542.4" cy="852.0" r="4.1" fill="#dc3022" stroke="#fff" stroke-width="1.2"/>
<line x1="585.1" y1="887.0" x2="585.1" y2="892.8" stroke="#4d4d4d" stroke-width="2.5"/>
<line x1="585.1" y1="971.0" x2="585.1" y2="979.4" stroke="#4d4d4d" stroke-width="2.5"/>
<rect x="576.6" y="892.8" width="17.0" height="78.2" fill="#a6a6a6" stroke="#4d4d4d" stroke-width="2.2"/>
<line x1="576.6" y1="931.0" x2="593.6" y2="931.0" stroke="#4d4d4d" stroke-width="2.2"/>
<rect x="581.3" y="883.2" width="7.6" height="7.6" fill="#a3a3a3" stroke="#fff" stroke-width="1.2"/>
<rect x="581.3" y="975.6" width="7.6" height="7.6" fill="#a3a3a3" stroke="#fff" stroke-width="1.2"/>
<rect x="576.7" y="900.6" width="7.6" height="7.6" fill="#a3a3a3" stroke="#fff" stroke-width="1.2"/>
<rect x="585.9" y="919.0" width="7.6" height="7.6" fill="#a3a3a3" stroke="#fff" stroke-width="1.2"/>
<rect x="576.7" y="937.2" width="7.6" height="7.6" fill="#a3a3a3" stroke="#fff" stroke-width="1.2"/>
<rect x="585.9" y="955.6" width="7.6" height="7.6" fill="#a3a3a3" stroke="#fff" stroke-width="1.2"/>
<line x1="613.3" y1="848.0" x2="613.3" y2="875.5" stroke="#8c180c" stroke-width="2.5"/>
<line x1="613.3" y1="945.9" x2="613.3" y2="1053.4" stroke="#8c180c" stroke-width="2.5"/>
<rect x="604.8" y="875.5" width="17.0" height="70.4" fill="#e2260f" stroke="#8c180c" stroke-width="2.2"/>
<line x1="604.8" y1="898.4" x2="621.8" y2="898.4" stroke="#8c180c" stroke-width="2.2"/>
<rect x="609.5" y="844.2" width="7.6" height="7.6" fill="#e8220c" stroke="#fff" stroke-width="1.2"/>
<rect x="609.5" y="1049.6" width="7.6" height="7.6" fill="#e8220c" stroke="#fff" stroke-width="1.2"/>
<rect x="604.9" y="882.4" width="7.6" height="7.6" fill="#e8220c" stroke="#fff" stroke-width="1.2"/>
<rect x="614.1" y="898.7" width="7.6" height="7.6" fill="#e8220c" stroke="#fff" stroke-width="1.2"/>
<rect x="604.9" y="915.1" width="7.6" height="7.6" fill="#e8220c" stroke="#fff" stroke-width="1.2"/>
<rect x="614.1" y="931.4" width="7.6" height="7.6" fill="#e8220c" stroke="#fff" stroke-width="1.2"/>
<line x1="641.5" y1="791.0" x2="641.5" y2="799.2" stroke="#5c5c5c" stroke-width="2.5"/>
<line x1="641.5" y1="824.3" x2="641.5" y2="824.3" stroke="#5c5c5c" stroke-width="2.5"/>
<rect x="633.0" y="799.2" width="17.0" height="25.1" fill="#d6d6d6" stroke="#5c5c5c" stroke-width="2.2"/>
<line x1="633.0" y1="804.8" x2="650.0" y2="804.8" stroke="#5c5c5c" stroke-width="2.2"/>
<circle cx="641.5" cy="791.0" r="4.1" fill="#b0b0b0" stroke="#fff" stroke-width="1.2"/>
<circle cx="641.5" cy="824.3" r="4.1" fill="#b0b0b0" stroke="#fff" stroke-width="1.2"/>
<circle cx="636.9" cy="804.2" r="4.1" fill="#b0b0b0" stroke="#fff" stroke-width="1.2"/>
<circle cx="646.1" cy="809.2" r="4.1" fill="#b0b0b0" stroke="#fff" stroke-width="1.2"/>
<circle cx="636.9" cy="814.3" r="4.1" fill="#b0b0b0" stroke="#fff" stroke-width="1.2"/>
<circle cx="646.1" cy="819.3" r="4.1" fill="#b0b0b0" stroke="#fff" stroke-width="1.2"/>
<line x1="669.7" y1="770.0" x2="669.7" y2="776.0" stroke="#9a1b11" stroke-width="2.5"/>
<line x1="669.7" y1="832.7" x2="669.7" y2="852.3" stroke="#9a1b11" stroke-width="2.5"/>
<rect x="661.2" y="776.0" width="17.0" height="56.7" fill="#f09a8b" stroke="#9a1b11" stroke-width="2.2"/>
<line x1="661.2" y1="816.0" x2="678.2" y2="816.0" stroke="#9a1b11" stroke-width="2.2"/>
<circle cx="669.7" cy="770.0" r="4.1" fill="#dc3022" stroke="#fff" stroke-width="1.2"/>
<circle cx="669.7" cy="852.3" r="4.1" fill="#dc3022" stroke="#fff" stroke-width="1.2"/>
<circle cx="665.1" cy="785.0" r="4.1" fill="#dc3022" stroke="#fff" stroke-width="1.2"/>
<circle cx="674.3" cy="797.9" r="4.1" fill="#dc3022" stroke="#fff" stroke-width="1.2"/>
<circle cx="665.1" cy="810.8" r="4.1" fill="#dc3022" stroke="#fff" stroke-width="1.2"/>
<circle cx="674.3" cy="823.7" r="4.1" fill="#dc3022" stroke="#fff" stroke-width="1.2"/>
<line x1="717.0" y1="856.0" x2="717.0" y2="865.8" stroke="#4d4d4d" stroke-width="2.5"/>
<line x1="717.0" y1="890.7" x2="717.0" y2="897.8" stroke="#4d4d4d" stroke-width="2.5"/>
<rect x="708.5" y="865.8" width="17.0" height="24.9" fill="#a6a6a6" stroke="#4d4d4d" stroke-width="2.2"/>
<line x1="708.5" y1="878.0" x2="725.5" y2="878.0" stroke="#4d4d4d" stroke-width="2.2"/>
<rect x="713.2" y="852.2" width="7.6" height="7.6" fill="#a3a3a3" stroke="#fff" stroke-width="1.2"/>
<rect x="713.2" y="894.0" width="7.6" height="7.6" fill="#a3a3a3" stroke="#fff" stroke-width="1.2"/>
<rect x="708.6" y="867.0" width="7.6" height="7.6" fill="#a3a3a3" stroke="#fff" stroke-width="1.2"/>
<rect x="717.8" y="872.0" width="7.6" height="7.6" fill="#a3a3a3" stroke="#fff" stroke-width="1.2"/>
<rect x="708.6" y="876.9" width="7.6" height="7.6" fill="#a3a3a3" stroke="#fff" stroke-width="1.2"/>
<rect x="717.8" y="881.9" width="7.6" height="7.6" fill="#a3a3a3" stroke="#fff" stroke-width="1.2"/>
<line x1="745.2" y1="854.0" x2="745.2" y2="856.0" stroke="#8c180c" stroke-width="2.5"/>
<line x1="745.2" y1="916.4" x2="745.2" y2="924.4" stroke="#8c180c" stroke-width="2.5"/>
<rect x="736.7" y="856.0" width="17.0" height="60.4" fill="#e2260f" stroke="#8c180c" stroke-width="2.2"/>
<line x1="736.7" y1="886.0" x2="753.7" y2="886.0" stroke="#8c180c" stroke-width="2.2"/>
<rect x="741.4" y="850.2" width="7.6" height="7.6" fill="#e8220c" stroke="#fff" stroke-width="1.2"/>
<rect x="741.4" y="920.6" width="7.6" height="7.6" fill="#e8220c" stroke="#fff" stroke-width="1.2"/>
<rect x="736.8" y="861.6" width="7.6" height="7.6" fill="#e8220c" stroke="#fff" stroke-width="1.2"/>
<rect x="746.0" y="875.5" width="7.6" height="7.6" fill="#e8220c" stroke="#fff" stroke-width="1.2"/>
<rect x="736.8" y="889.3" width="7.6" height="7.6" fill="#e8220c" stroke="#fff" stroke-width="1.2"/>
<rect x="746.0" y="903.2" width="7.6" height="7.6" fill="#e8220c" stroke="#fff" stroke-width="1.2"/>
<line x1="773.4" y1="871.0" x2="773.4" y2="881.8" stroke="#5c5c5c" stroke-width="2.5"/>
<line x1="773.4" y1="916.9" x2="773.4" y2="924.4" stroke="#5c5c5c" stroke-width="2.5"/>
<rect x="764.9" y="881.8" width="17.0" height="35.1" fill="#d6d6d6" stroke="#5c5c5c" stroke-width="2.2"/>
<line x1="764.9" y1="900.9" x2="781.9" y2="900.9" stroke="#5c5c5c" stroke-width="2.2"/>
<circle cx="773.4" cy="871.0" r="4.1" fill="#b0b0b0" stroke="#fff" stroke-width="1.2"/>
<circle cx="773.4" cy="924.4" r="4.1" fill="#b0b0b0" stroke="#fff" stroke-width="1.2"/>
<circle cx="768.8" cy="888.1" r="4.1" fill="#b0b0b0" stroke="#fff" stroke-width="1.2"/>
<circle cx="778.0" cy="895.6" r="4.1" fill="#b0b0b0" stroke="#fff" stroke-width="1.2"/>
<circle cx="768.8" cy="903.1" r="4.1" fill="#b0b0b0" stroke="#fff" stroke-width="1.2"/>
<circle cx="778.0" cy="910.6" r="4.1" fill="#b0b0b0" stroke="#fff" stroke-width="1.2"/>
<line x1="801.6" y1="868.4" x2="801.6" y2="873.3" stroke="#9a1b11" stroke-width="2.5"/>
<line x1="801.6" y1="915.6" x2="801.6" y2="920.0" stroke="#9a1b11" stroke-width="2.5"/>
<rect x="793.1" y="873.3" width="17.0" height="42.3" fill="#f09a8b" stroke="#9a1b11" stroke-width="2.2"/>
<line x1="793.1" y1="892.0" x2="810.1" y2="892.0" stroke="#9a1b11" stroke-width="2.2"/>
<circle cx="801.6" cy="868.4" r="4.1" fill="#dc3022" stroke="#fff" stroke-width="1.2"/>
<circle cx="801.6" cy="920.0" r="4.1" fill="#dc3022" stroke="#fff" stroke-width="1.2"/>
<circle cx="797.0" cy="880.5" r="4.1" fill="#dc3022" stroke="#fff" stroke-width="1.2"/>
<circle cx="806.2" cy="889.8" r="4.1" fill="#dc3022" stroke="#fff" stroke-width="1.2"/>
<circle cx="797.0" cy="899.1" r="4.1" fill="#dc3022" stroke="#fff" stroke-width="1.2"/>
<circle cx="806.2" cy="908.4" r="4.1" fill="#dc3022" stroke="#fff" stroke-width="1.2"/>
<line x1="848.9" y1="780.0" x2="848.9" y2="783.0" stroke="#4d4d4d" stroke-width="2.5"/>
<line x1="848.9" y1="814.3" x2="848.9" y2="815.4" stroke="#4d4d4d" stroke-width="2.5"/>
<rect x="840.4" y="783.0" width="17.0" height="31.3" fill="#a6a6a6" stroke="#4d4d4d" stroke-width="2.2"/>
<line x1="840.4" y1="800.0" x2="857.4" y2="800.0" stroke="#4d4d4d" stroke-width="2.2"/>
<rect x="845.1" y="776.2" width="7.6" height="7.6" fill="#a3a3a3" stroke="#fff" stroke-width="1.2"/>
<rect x="845.1" y="811.6" width="7.6" height="7.6" fill="#a3a3a3" stroke="#fff" stroke-width="1.2"/>
<rect x="840.5" y="785.0" width="7.6" height="7.6" fill="#a3a3a3" stroke="#fff" stroke-width="1.2"/>
<rect x="849.7" y="791.6" width="7.6" height="7.6" fill="#a3a3a3" stroke="#fff" stroke-width="1.2"/>
<rect x="840.5" y="798.1" width="7.6" height="7.6" fill="#a3a3a3" stroke="#fff" stroke-width="1.2"/>
<rect x="849.7" y="804.7" width="7.6" height="7.6" fill="#a3a3a3" stroke="#fff" stroke-width="1.2"/>
<line x1="877.1" y1="782.0" x2="877.1" y2="788.0" stroke="#8c180c" stroke-width="2.5"/>
<line x1="877.1" y1="823.4" x2="877.1" y2="826.0" stroke="#8c180c" stroke-width="2.5"/>
<rect x="868.6" y="788.0" width="17.0" height="35.4" fill="#e2260f" stroke="#8c180c" stroke-width="2.2"/>
<line x1="868.6" y1="810.0" x2="885.6" y2="810.0" stroke="#8c180c" stroke-width="2.2"/>
<rect x="873.3" y="778.2" width="7.6" height="7.6" fill="#e8220c" stroke="#fff" stroke-width="1.2"/>
<rect x="873.3" y="822.2" width="7.6" height="7.6" fill="#e8220c" stroke="#fff" stroke-width="1.2"/>
<rect x="868.7" y="790.5" width="7.6" height="7.6" fill="#e8220c" stroke="#fff" stroke-width="1.2"/>
<rect x="877.9" y="798.1" width="7.6" height="7.6" fill="#e8220c" stroke="#fff" stroke-width="1.2"/>
<rect x="868.7" y="805.7" width="7.6" height="7.6" fill="#e8220c" stroke="#fff" stroke-width="1.2"/>
<rect x="877.9" y="813.3" width="7.6" height="7.6" fill="#e8220c" stroke="#fff" stroke-width="1.2"/>
<line x1="905.3" y1="803.5" x2="905.3" y2="812.6" stroke="#5c5c5c" stroke-width="2.5"/>
<line x1="905.3" y1="826.8" x2="905.3" y2="827.0" stroke="#5c5c5c" stroke-width="2.5"/>
<rect x="896.8" y="812.6" width="17.0" height="14.2" fill="#d6d6d6" stroke="#5c5c5c" stroke-width="2.2"/>
<line x1="896.8" y1="815.0" x2="913.8" y2="815.0" stroke="#5c5c5c" stroke-width="2.2"/>
<circle cx="905.3" cy="803.5" r="4.1" fill="#b0b0b0" stroke="#fff" stroke-width="1.2"/>
<circle cx="905.3" cy="827.0" r="4.1" fill="#b0b0b0" stroke="#fff" stroke-width="1.2"/>
<circle cx="900.7" cy="816.2" r="4.1" fill="#b0b0b0" stroke="#fff" stroke-width="1.2"/>
<circle cx="909.9" cy="818.5" r="4.1" fill="#b0b0b0" stroke="#fff" stroke-width="1.2"/>
<circle cx="900.7" cy="820.9" r="4.1" fill="#b0b0b0" stroke="#fff" stroke-width="1.2"/>
<circle cx="909.9" cy="823.1" r="4.1" fill="#b0b0b0" stroke="#fff" stroke-width="1.2"/>
<line x1="933.5" y1="813.2" x2="933.5" y2="823.4" stroke="#9a1b11" stroke-width="2.5"/>
<line x1="933.5" y1="834.7" x2="933.5" y2="843.8" stroke="#9a1b11" stroke-width="2.5"/>
<rect x="925.0" y="823.4" width="17.0" height="11.3" fill="#f09a8b" stroke="#9a1b11" stroke-width="2.2"/>
<line x1="925.0" y1="828.0" x2="942.0" y2="828.0" stroke="#9a1b11" stroke-width="2.2"/>
<circle cx="933.5" cy="813.2" r="4.1" fill="#dc3022" stroke="#fff" stroke-width="1.2"/>
<circle cx="933.5" cy="843.8" r="4.1" fill="#dc3022" stroke="#fff" stroke-width="1.2"/>
<circle cx="928.9" cy="826.7" r="4.1" fill="#dc3022" stroke="#fff" stroke-width="1.2"/>
<circle cx="938.1" cy="828.3" r="4.1" fill="#dc3022" stroke="#fff" stroke-width="1.2"/>
<circle cx="928.9" cy="829.8" r="4.1" fill="#dc3022" stroke="#fff" stroke-width="1.2"/>
<circle cx="938.1" cy="831.4" r="4.1" fill="#dc3022" stroke="#fff" stroke-width="1.2"/>
<line x1="980.8" y1="892.0" x2="980.8" y2="900.8" stroke="#4d4d4d" stroke-width="2.5"/>
<line x1="980.8" y1="918.1" x2="980.8" y2="926.8" stroke="#4d4d4d" stroke-width="2.5"/>
<rect x="972.3" y="900.8" width="17.0" height="17.3" fill="#a6a6a6" stroke="#4d4d4d" stroke-width="2.2"/>
<line x1="972.3" y1="906.0" x2="989.3" y2="906.0" stroke="#4d4d4d" stroke-width="2.2"/>
<rect x="977.0" y="888.2" width="7.6" height="7.6" fill="#a3a3a3" stroke="#fff" stroke-width="1.2"/>
<rect x="977.0" y="923.0" width="7.6" height="7.6" fill="#a3a3a3" stroke="#fff" stroke-width="1.2"/>
<rect x="972.4" y="901.0" width="7.6" height="7.6" fill="#a3a3a3" stroke="#fff" stroke-width="1.2"/>
<rect x="981.6" y="904.1" width="7.6" height="7.6" fill="#a3a3a3" stroke="#fff" stroke-width="1.2"/>
<rect x="972.4" y="907.2" width="7.6" height="7.6" fill="#a3a3a3" stroke="#fff" stroke-width="1.2"/>
<rect x="981.6" y="910.3" width="7.6" height="7.6" fill="#a3a3a3" stroke="#fff" stroke-width="1.2"/>
<line x1="1009.0" y1="891.7" x2="1009.0" y2="893.0" stroke="#8c180c" stroke-width="2.5"/>
<line x1="1009.0" y1="921.5" x2="1009.0" y2="923.9" stroke="#8c180c" stroke-width="2.5"/>
<rect x="1000.5" y="893.0" width="17.0" height="28.5" fill="#e2260f" stroke="#8c180c" stroke-width="2.2"/>
<line x1="1000.5" y1="906.0" x2="1017.5" y2="906.0" stroke="#8c180c" stroke-width="2.2"/>
<rect x="1005.2" y="887.9" width="7.6" height="7.6" fill="#e8220c" stroke="#fff" stroke-width="1.2"/>
<rect x="1005.2" y="920.1" width="7.6" height="7.6" fill="#e8220c" stroke="#fff" stroke-width="1.2"/>
<rect x="1000.6" y="894.6" width="7.6" height="7.6" fill="#e8220c" stroke="#fff" stroke-width="1.2"/>
<rect x="1009.8" y="900.5" width="7.6" height="7.6" fill="#e8220c" stroke="#fff" stroke-width="1.2"/>
<rect x="1000.6" y="906.4" width="7.6" height="7.6" fill="#e8220c" stroke="#fff" stroke-width="1.2"/>
<rect x="1009.8" y="912.3" width="7.6" height="7.6" fill="#e8220c" stroke="#fff" stroke-width="1.2"/>
<line x1="1037.2" y1="906.6" x2="1037.2" y2="909.5" stroke="#5c5c5c" stroke-width="2.5"/>
<line x1="1037.2" y1="920.0" x2="1037.2" y2="927.8" stroke="#5c5c5c" stroke-width="2.5"/>
<rect x="1028.7" y="909.5" width="17.0" height="10.5" fill="#d6d6d6" stroke="#5c5c5c" stroke-width="2.2"/>
<line x1="1028.7" y1="915.0" x2="1045.7" y2="915.0" stroke="#5c5c5c" stroke-width="2.2"/>
<circle cx="1037.2" cy="906.6" r="4.1" fill="#b0b0b0" stroke="#fff" stroke-width="1.2"/>
<circle cx="1037.2" cy="927.8" r="4.1" fill="#b0b0b0" stroke="#fff" stroke-width="1.2"/>
<circle cx="1032.6" cy="912.7" r="4.1" fill="#b0b0b0" stroke="#fff" stroke-width="1.2"/>
<circle cx="1041.8" cy="914.1" r="4.1" fill="#b0b0b0" stroke="#fff" stroke-width="1.2"/>
<circle cx="1032.6" cy="915.4" r="4.1" fill="#b0b0b0" stroke="#fff" stroke-width="1.2"/>
<circle cx="1041.8" cy="916.8" r="4.1" fill="#b0b0b0" stroke="#fff" stroke-width="1.2"/>
<line x1="1065.4" y1="908.0" x2="1065.4" y2="911.4" stroke="#9a1b11" stroke-width="2.5"/>
<line x1="1065.4" y1="922.5" x2="1065.4" y2="931.6" stroke="#9a1b11" stroke-width="2.5"/>
<rect x="1056.9" y="911.4" width="17.0" height="11.1" fill="#f09a8b" stroke="#9a1b11" stroke-width="2.2"/>
<line x1="1056.9" y1="917.0" x2="1073.9" y2="917.0" stroke="#9a1b11" stroke-width="2.2"/>
<circle cx="1065.4" cy="908.0" r="4.1" fill="#dc3022" stroke="#fff" stroke-width="1.2"/>
<circle cx="1065.4" cy="931.6" r="4.1" fill="#dc3022" stroke="#fff" stroke-width="1.2"/>
<circle cx="1060.8" cy="914.7" r="4.1" fill="#dc3022" stroke="#fff" stroke-width="1.2"/>
<circle cx="1070.0" cy="916.2" r="4.1" fill="#dc3022" stroke="#fff" stroke-width="1.2"/>
<circle cx="1060.8" cy="917.7" r="4.1" fill="#dc3022" stroke="#fff" stroke-width="1.2"/>
<circle cx="1070.0" cy="919.2" r="4.1" fill="#dc3022" stroke="#fff" stroke-width="1.2"/>
<line x1="1112.7" y1="775.3" x2="1112.7" y2="778.3" stroke="#4d4d4d" stroke-width="2.5"/>
<line x1="1112.7" y1="797.0" x2="1112.7" y2="800.1" stroke="#4d4d4d" stroke-width="2.5"/>
<rect x="1104.2" y="778.3" width="17.0" height="18.7" fill="#a6a6a6" stroke="#4d4d4d" stroke-width="2.2"/>
<line x1="1104.2" y1="787.0" x2="1121.2" y2="787.0" stroke="#4d4d4d" stroke-width="2.2"/>
<rect x="1108.9" y="771.5" width="7.6" height="7.6" fill="#a3a3a3" stroke="#fff" stroke-width="1.2"/>
<rect x="1108.9" y="796.3" width="7.6" height="7.6" fill="#a3a3a3" stroke="#fff" stroke-width="1.2"/>
<rect x="1104.3" y="778.7" width="7.6" height="7.6" fill="#a3a3a3" stroke="#fff" stroke-width="1.2"/>
<rect x="1113.5" y="782.1" width="7.6" height="7.6" fill="#a3a3a3" stroke="#fff" stroke-width="1.2"/>
<rect x="1104.3" y="785.6" width="7.6" height="7.6" fill="#a3a3a3" stroke="#fff" stroke-width="1.2"/>
<rect x="1113.5" y="789.0" width="7.6" height="7.6" fill="#a3a3a3" stroke="#fff" stroke-width="1.2"/>
<line x1="1140.9" y1="779.0" x2="1140.9" y2="781.0" stroke="#8c180c" stroke-width="2.5"/>
<line x1="1140.9" y1="804.0" x2="1140.9" y2="806.1" stroke="#8c180c" stroke-width="2.5"/>
<rect x="1132.4" y="781.0" width="17.0" height="23.0" fill="#e2260f" stroke="#8c180c" stroke-width="2.2"/>
<line x1="1132.4" y1="791.6" x2="1149.4" y2="791.6" stroke="#8c180c" stroke-width="2.2"/>
<rect x="1137.1" y="775.2" width="7.6" height="7.6" fill="#e8220c" stroke="#fff" stroke-width="1.2"/>
<rect x="1137.1" y="802.3" width="7.6" height="7.6" fill="#e8220c" stroke="#fff" stroke-width="1.2"/>
<rect x="1132.5" y="782.0" width="7.6" height="7.6" fill="#e8220c" stroke="#fff" stroke-width="1.2"/>
<rect x="1141.7" y="786.5" width="7.6" height="7.6" fill="#e8220c" stroke="#fff" stroke-width="1.2"/>
<rect x="1132.5" y="791.0" width="7.6" height="7.6" fill="#e8220c" stroke="#fff" stroke-width="1.2"/>
<rect x="1141.7" y="795.5" width="7.6" height="7.6" fill="#e8220c" stroke="#fff" stroke-width="1.2"/>
<line x1="1169.1" y1="800.7" x2="1169.1" y2="805.5" stroke="#5c5c5c" stroke-width="2.5"/>
<line x1="1169.1" y1="831.0" x2="1169.1" y2="831.5" stroke="#5c5c5c" stroke-width="2.5"/>
<rect x="1160.6" y="805.5" width="17.0" height="25.5" fill="#d6d6d6" stroke="#5c5c5c" stroke-width="2.2"/>
<line x1="1160.6" y1="815.0" x2="1177.6" y2="815.0" stroke="#5c5c5c" stroke-width="2.2"/>
<circle cx="1169.1" cy="800.7" r="4.1" fill="#b0b0b0" stroke="#fff" stroke-width="1.2"/>
<circle cx="1169.1" cy="831.5" r="4.1" fill="#b0b0b0" stroke="#fff" stroke-width="1.2"/>
<circle cx="1164.5" cy="810.6" r="4.1" fill="#b0b0b0" stroke="#fff" stroke-width="1.2"/>
<circle cx="1173.7" cy="815.7" r="4.1" fill="#b0b0b0" stroke="#fff" stroke-width="1.2"/>
<circle cx="1164.5" cy="820.8" r="4.1" fill="#b0b0b0" stroke="#fff" stroke-width="1.2"/>
<circle cx="1173.7" cy="825.9" r="4.1" fill="#b0b0b0" stroke="#fff" stroke-width="1.2"/>
<line x1="1197.3" y1="816.4" x2="1197.3" y2="816.4" stroke="#9a1b11" stroke-width="2.5"/>
<line x1="1197.3" y1="838.2" x2="1197.3" y2="854.5" stroke="#9a1b11" stroke-width="2.5"/>
<rect x="1188.8" y="816.4" width="17.0" height="21.8" fill="#f09a8b" stroke="#9a1b11" stroke-width="2.2"/>
<line x1="1188.8" y1="825.0" x2="1205.8" y2="825.0" stroke="#9a1b11" stroke-width="2.2"/>
<circle cx="1197.3" cy="816.4" r="4.1" fill="#dc3022" stroke="#fff" stroke-width="1.2"/>
<circle cx="1197.3" cy="854.5" r="4.1" fill="#dc3022" stroke="#fff" stroke-width="1.2"/>
<circle cx="1192.7" cy="821.0" r="4.1" fill="#dc3022" stroke="#fff" stroke-width="1.2"/>
<circle cx="1201.9" cy="825.2" r="4.1" fill="#dc3022" stroke="#fff" stroke-width="1.2"/>
<circle cx="1192.7" cy="829.4" r="4.1" fill="#dc3022" stroke="#fff" stroke-width="1.2"/>
<circle cx="1201.9" cy="833.6" r="4.1" fill="#dc3022" stroke="#fff" stroke-width="1.2"/>
<line x1="1244.6" y1="1018.0" x2="1244.6" y2="1027.1" stroke="#4d4d4d" stroke-width="2.5"/>
<line x1="1244.6" y1="1052.1" x2="1244.6" y2="1061.3" stroke="#4d4d4d" stroke-width="2.5"/>
<rect x="1236.1" y="1027.1" width="17.0" height="25.0" fill="#a6a6a6" stroke="#4d4d4d" stroke-width="2.2"/>
<line x1="1236.1" y1="1040.0" x2="1253.1" y2="1040.0" stroke="#4d4d4d" stroke-width="2.2"/>
<rect x="1240.8" y="1014.2" width="7.6" height="7.6" fill="#a3a3a3" stroke="#fff" stroke-width="1.2"/>
<rect x="1240.8" y="1057.5" width="7.6" height="7.6" fill="#a3a3a3" stroke="#fff" stroke-width="1.2"/>
<rect x="1236.2" y="1028.3" width="7.6" height="7.6" fill="#a3a3a3" stroke="#fff" stroke-width="1.2"/>
<rect x="1245.4" y="1033.3" width="7.6" height="7.6" fill="#a3a3a3" stroke="#fff" stroke-width="1.2"/>
<rect x="1236.2" y="1038.3" width="7.6" height="7.6" fill="#a3a3a3" stroke="#fff" stroke-width="1.2"/>
<rect x="1245.4" y="1043.3" width="7.6" height="7.6" fill="#a3a3a3" stroke="#fff" stroke-width="1.2"/>
<line x1="1272.8" y1="1019.0" x2="1272.8" y2="1022.0" stroke="#8c180c" stroke-width="2.5"/>
<line x1="1272.8" y1="1056.4" x2="1272.8" y2="1069.0" stroke="#8c180c" stroke-width="2.5"/>
<rect x="1264.3" y="1022.0" width="17.0" height="34.4" fill="#e2260f" stroke="#8c180c" stroke-width="2.2"/>
<line x1="1264.3" y1="1037.0" x2="1281.3" y2="1037.0" stroke="#8c180c" stroke-width="2.2"/>
<rect x="1269.0" y="1015.2" width="7.6" height="7.6" fill="#e8220c" stroke="#fff" stroke-width="1.2"/>
<rect x="1269.0" y="1065.2" width="7.6" height="7.6" fill="#e8220c" stroke="#fff" stroke-width="1.2"/>
<rect x="1264.4" y="1024.4" width="7.6" height="7.6" fill="#e8220c" stroke="#fff" stroke-width="1.2"/>
<rect x="1273.6" y="1031.7" width="7.6" height="7.6" fill="#e8220c" stroke="#fff" stroke-width="1.2"/>
<rect x="1264.4" y="1039.1" width="7.6" height="7.6" fill="#e8220c" stroke="#fff" stroke-width="1.2"/>
<rect x="1273.6" y="1046.4" width="7.6" height="7.6" fill="#e8220c" stroke="#fff" stroke-width="1.2"/>
<line x1="1301.0" y1="1013.1" x2="1301.0" y2="1018.4" stroke="#5c5c5c" stroke-width="2.5"/>
<line x1="1301.0" y1="1055.5" x2="1301.0" y2="1072.3" stroke="#5c5c5c" stroke-width="2.5"/>
<rect x="1292.5" y="1018.4" width="17.0" height="37.1" fill="#d6d6d6" stroke="#5c5c5c" stroke-width="2.2"/>
<line x1="1292.5" y1="1020.0" x2="1309.5" y2="1020.0" stroke="#5c5c5c" stroke-width="2.2"/>
<circle cx="1301.0" cy="1013.1" r="4.1" fill="#b0b0b0" stroke="#fff" stroke-width="1.2"/>
<circle cx="1301.0" cy="1072.3" r="4.1" fill="#b0b0b0" stroke="#fff" stroke-width="1.2"/>
<circle cx="1296.4" cy="1024.9" r="4.1" fill="#b0b0b0" stroke="#fff" stroke-width="1.2"/>
<circle cx="1305.6" cy="1032.9" r="4.1" fill="#b0b0b0" stroke="#fff" stroke-width="1.2"/>
<circle cx="1296.4" cy="1041.0" r="4.1" fill="#b0b0b0" stroke="#fff" stroke-width="1.2"/>
<circle cx="1305.6" cy="1049.0" r="4.1" fill="#b0b0b0" stroke="#fff" stroke-width="1.2"/>
<line x1="1329.2" y1="1007.8" x2="1329.2" y2="1020.8" stroke="#9a1b11" stroke-width="2.5"/>
<line x1="1329.2" y1="1039.1" x2="1329.2" y2="1046.8" stroke="#9a1b11" stroke-width="2.5"/>
<rect x="1320.7" y="1020.8" width="17.0" height="18.3" fill="#f09a8b" stroke="#9a1b11" stroke-width="2.2"/>
<line x1="1320.7" y1="1030.4" x2="1337.7" y2="1030.4" stroke="#9a1b11" stroke-width="2.2"/>
<circle cx="1329.2" cy="1007.8" r="4.1" fill="#dc3022" stroke="#fff" stroke-width="1.2"/>
<circle cx="1329.2" cy="1046.8" r="4.1" fill="#dc3022" stroke="#fff" stroke-width="1.2"/>
<circle cx="1324.6" cy="1025.0" r="4.1" fill="#dc3022" stroke="#fff" stroke-width="1.2"/>
<circle cx="1333.8" cy="1028.3" r="4.1" fill="#dc3022" stroke="#fff" stroke-width="1.2"/>
<circle cx="1324.6" cy="1031.6" r="4.1" fill="#dc3022" stroke="#fff" stroke-width="1.2"/>
<circle cx="1333.8" cy="1034.9" r="4.1" fill="#dc3022" stroke="#fff" stroke-width="1.2"/>
<path d="M320.8,882.3 H349.8 M335.3,882.3 V860.1 H392.9 V913.9 M378.5,913.9 H407.2" fill="none" stroke="#3f3f3f" stroke-width="1.45"/>
<path d="M349.50,836.80 L349.50,846.80 M345.17,839.30 L353.83,844.30 M345.17,844.30 L353.83,839.30 " stroke="#000" stroke-width="2.9" stroke-linecap="round" fill="none"/>
<path d="M362.80,836.80 L362.80,846.80 M358.47,839.30 L367.13,844.30 M358.47,844.30 L367.13,839.30 " stroke="#000" stroke-width="2.9" stroke-linecap="round" fill="none"/>
<path d="M376.10,836.80 L376.10,846.80 M371.77,839.30 L380.43,844.30 M371.77,844.30 L380.43,839.30 " stroke="#000" stroke-width="2.9" stroke-linecap="round" fill="none"/>
<path d="M452.7,756.0 H481.7 M467.2,756.0 V734.1 H524.8 V792.6 M510.4,792.6 H539.1" fill="none" stroke="#3f3f3f" stroke-width="1.45"/>
<path d="M481.80,710.60 L481.80,720.60 M477.47,713.10 L486.13,718.10 M477.47,718.10 L486.13,713.10 " stroke="#000" stroke-width="2.9" stroke-linecap="round" fill="none"/>
<path d="M495.10,710.60 L495.10,720.60 M490.77,713.10 L499.43,718.10 M490.77,718.10 L499.43,713.10 " stroke="#000" stroke-width="2.9" stroke-linecap="round" fill="none"/>
<path d="M508.40,710.60 L508.40,720.60 M504.07,713.10 L512.73,718.10 M504.07,718.10 L512.73,713.10 " stroke="#000" stroke-width="2.9" stroke-linecap="round" fill="none"/>
<path d="M584.6,829.1 H613.6 M599.1,829.1 V738.6 H656.7 V760.1 M642.3,760.1 H671.0" fill="none" stroke="#3f3f3f" stroke-width="1.45"/>
<path d="M614.10,716.00 L614.10,726.00 M609.77,718.50 L618.43,723.50 M609.77,723.50 L618.43,718.50 " stroke="#000" stroke-width="2.9" stroke-linecap="round" fill="none"/>
<path d="M627.40,716.00 L627.40,726.00 M623.07,718.50 L631.73,723.50 M623.07,723.50 L631.73,718.50 " stroke="#000" stroke-width="2.9" stroke-linecap="round" fill="none"/>
<path d="M640.70,716.00 L640.70,726.00 M636.37,718.50 L645.03,723.50 M636.37,723.50 L645.03,718.50 " stroke="#000" stroke-width="2.9" stroke-linecap="round" fill="none"/>
<path d="M848.4,773.7 H877.4 M862.9,773.7 V752.9 H920.5 V793.3 M906.1,793.3 H934.8" fill="none" stroke="#3f3f3f" stroke-width="1.45"/>
<path d="M888.05,731.40 L888.05,741.40 M883.72,733.90 L892.38,738.90 M883.72,738.90 L892.38,733.90 " stroke="#000" stroke-width="2.9" stroke-linecap="round" fill="none"/>
<path d="M901.35,731.40 L901.35,741.40 M897.02,733.90 L905.68,738.90 M897.02,738.90 L905.68,733.90 " stroke="#000" stroke-width="2.9" stroke-linecap="round" fill="none"/>
<path d="M1112.2,771.4 H1141.2 M1126.7,771.4 V749.3 H1184.2 V791.6 M1169.9,791.6 H1198.6" fill="none" stroke="#3f3f3f" stroke-width="1.45"/>
<path d="M1141.00,725.90 L1141.00,735.90 M1136.67,728.40 L1145.33,733.40 M1136.67,733.40 L1145.33,728.40 " stroke="#000" stroke-width="2.9" stroke-linecap="round" fill="none"/>
<path d="M1154.30,725.90 L1154.30,735.90 M1149.97,728.40 L1158.63,733.40 M1149.97,733.40 L1158.63,728.40 " stroke="#000" stroke-width="2.9" stroke-linecap="round" fill="none"/>
<path d="M1167.60,725.90 L1167.60,735.90 M1163.27,728.40 L1171.93,733.40 M1163.27,733.40 L1171.93,728.40 " stroke="#000" stroke-width="2.9" stroke-linecap="round" fill="none"/>
</svg>
</body></html>
